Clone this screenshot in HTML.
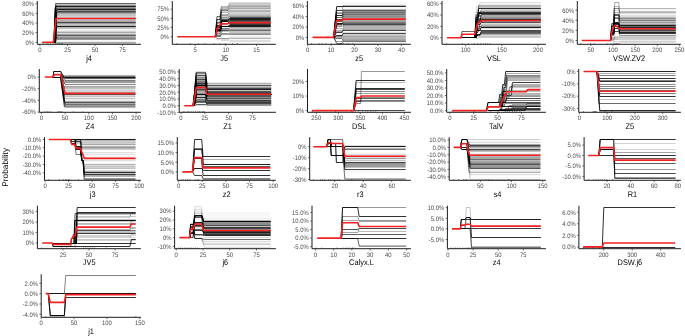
<!DOCTYPE html>
<html><head><meta charset="utf-8"><style>
html,body{margin:0;padding:0;background:#fff;width:685px;height:336px;overflow:hidden}
svg{display:block;will-change:transform;text-rendering:geometricPrecision;font-family:"Liberation Sans",sans-serif}
</style></head><body>
<svg width="685" height="336" viewBox="0 0 685 336">
<rect width="685" height="336" fill="#fff"/>
<text opacity="0.999" transform="translate(7.85 167.3) rotate(-90)" text-anchor="middle" font-size="8.3" fill="#000">Probability</text>
<g fill="none" stroke="#000" stroke-width="0.9" stroke-linejoin="round"><path d="M54.36 42.5 L55.6 3.5 L135.83 3.5" stroke-opacity="0.684"/><path d="M54.94 42.5 L56.11 4.5 L135.83 4.5" stroke-opacity="0.264"/><path d="M54.74 42.5 L56.16 5.5 L135.83 5.5" stroke-opacity="0.504"/><path d="M53.9 42.5 L55.45 6.5 L135.83 6.5" stroke-opacity="0.984"/><path d="M53.86 42.5 L55.34 7.5 L135.83 7.5" stroke-opacity="0.444"/><path d="M53.92 42.5 L55.1 8.5 L135.83 8.5" stroke-opacity="0.624"/><path d="M54.54 42.5 L56.37 9.5 L135.83 9.5" stroke-opacity="0.984"/><path d="M54.01 42.5 L55.31 10.5 L135.83 10.5" stroke-opacity="0.504"/><path d="M54.9 42.5 L56.84 11.5 L135.83 11.5" stroke-opacity="0.804"/><path d="M54.81 42.5 L56.26 12.5 L135.83 12.5" stroke-opacity="0.624"/><path d="M55.52 42.5 L56.66 13.5 L135.83 13.5" stroke-opacity="0.384"/><path d="M55.31 42.5 L56.67 14.5 L135.83 14.5" stroke-opacity="0.264"/><path d="M54.05 42.5 L55.25 15.5 L135.83 15.5" stroke-opacity="0.264"/><path d="M54.34 42.5 L56.16 16.5 L135.83 16.5" stroke-opacity="0.204"/><path d="M54.11 42.5 L55.73 17.5 L135.83 17.5" stroke-opacity="0.264"/><path d="M54.92 42.5 L56.35 18.5 L135.83 18.5" stroke-opacity="0.264"/><path d="M54.76 42.5 L55.92 19.5 L135.83 19.5" stroke-opacity="0.264"/><path d="M53.9 42.5 L55.18 20.5 L135.83 20.5" stroke-opacity="0.324"/><path d="M54.99 42.5 L56.47 21.5 L135.83 21.5" stroke-opacity="0.384"/><path d="M54.35 42.5 L55.97 22.5 L135.83 22.5" stroke-opacity="0.804"/><path d="M54.59 42.5 L55.96 23.5 L135.83 23.5" stroke-opacity="0.444"/><path d="M55.2 42.5 L56.91 24.5 L135.83 24.5" stroke-opacity="0.264"/><path d="M54.22 42.5 L55.83 25.5 L135.83 25.5" stroke-opacity="0.324"/><path d="M54.72 42.5 L56.59 26.5 L135.83 26.5" stroke-opacity="0.984"/><path d="M55.08 42.5 L56.44 27.5 L135.83 27.5" stroke-opacity="0.324"/><path d="M55.52 42.5 L56.73 28.5 L135.83 28.5" stroke-opacity="0.264"/><path d="M54.53 42.5 L56.3 29.5 L135.83 29.5" stroke-opacity="0.048"/><path d="M54.06 42.5 L55.6 30.5 L135.83 30.5" stroke-opacity="0.084"/><path d="M53.86 42.5 L55.55 31.5 L135.83 31.5" stroke-opacity="0.204"/><path d="M55.14 42.5 L56.75 32.5 L135.83 32.5" stroke-opacity="0.384"/><path d="M55.34 42.5 L56.72 33.5 L135.83 33.5" stroke-opacity="0.144"/><path d="M55.02 42.5 L56.65 34.5 L135.83 34.5" stroke-opacity="0.444"/><path d="M54.82 42.5 L56.32 35.5 L135.83 35.5" stroke-opacity="0.684"/><path d="M55.28 42.5 L57.21 36.5 L135.83 36.5" stroke-opacity="0.384"/><path d="M54.63 42.5 L56.32 37.5 L135.83 37.5" stroke-opacity="0.444"/><path d="M53.9 42.5 L55.62 38.5 L135.83 38.5" stroke-opacity="0.564"/><path d="M54.94 42.5 L56.91 39.5 L135.83 39.5" stroke-opacity="0.444"/><path d="M55.24 42.5 L56.6 40.5 L135.83 40.5" stroke-opacity="0.03"/><path d="M54.47 42.5 L56.17 41.5 L135.83 41.5" stroke-opacity="0.084"/><path d="M53.83 42.5 L55.34 42.5 L135.83 42.5" stroke-opacity="0.384"/><path d="M54.09 42.5 L55.3 43.5 L135.83 43.5" stroke-opacity="0.264"/></g><path d="M42.11 42.2 L53.35 42.2 L56 18.44 L135.83 18.44" fill="none" stroke="#f22222" stroke-width="1.6" stroke-linejoin="round"/><path d="M42.99 43V44.3M46.19 43V44.3M48.06 43V44.3M50.6 43V44.3M53.02 43V44.3M55.34 43V44.3M57.65 43V44.3M59.42 43V44.3M61.07 43V44.3M62.28 43V44.3" stroke="#000" stroke-width="0.5" stroke-opacity="0.8"/><path d="M37.3 1V44.3H140.9" fill="none" stroke="#111" stroke-width="0.95"/><path d="M35.5 42.2H37.3M35.5 32.6H37.3M35.5 23H37.3M35.5 13.4H37.3M35.5 3.8H37.3M39.9 44.3V46.1M67.47 44.3V46.1M95.03 44.3V46.1M122.6 44.3V46.1" stroke="#333" stroke-width="0.7"/><g font-size="5.9" fill="#4d4d4d" opacity="0.999"><text transform="translate(34.1 44.52) scale(1 1.1)" text-anchor="end">0%</text><text transform="translate(34.1 34.92) scale(1 1.1)" text-anchor="end">20%</text><text transform="translate(34.1 25.32) scale(1 1.1)" text-anchor="end">40%</text><text transform="translate(34.1 15.72) scale(1 1.1)" text-anchor="end">60%</text><text transform="translate(34.1 6.12) scale(1 1.1)" text-anchor="end">80%</text><text transform="translate(39.9 52.29) scale(1 1.1)" text-anchor="middle">0</text><text transform="translate(67.47 52.29) scale(1 1.1)" text-anchor="middle">25</text><text transform="translate(95.03 52.29) scale(1 1.1)" text-anchor="middle">50</text><text transform="translate(122.6 52.29) scale(1 1.1)" text-anchor="middle">75</text></g><text transform="translate(89.1 60.61) scale(1 1.1)" text-anchor="middle" font-size="7.4" fill="#000" opacity="0.999">j4</text><g fill="none" stroke="#000" stroke-width="0.9" stroke-linejoin="round"><path d="M215.31 36.5 L216.96 17.5 L220.02 17.5 L221.43 6.5 L227.65 6.5 L229.48 2.5 L270.78 2.5" stroke-opacity="0.144"/><path d="M215.31 36.5 L216.96 16.5 L220.39 16.5 L222.03 8.5 L227.84 8.5 L229.68 3.5 L270.78 3.5" stroke-opacity="0.264"/><path d="M215.31 36.5 L216.96 16.5 L220.23 16.5 L221.39 6.5 L227.74 6.5 L229.58 4.5 L270.78 4.5" stroke-opacity="0.204"/><path d="M215.31 36.5 L216.96 16.5 L219.94 16.5 L221.23 7.5 L227.66 7.5 L229.5 5.5 L270.78 5.5" stroke-opacity="0.324"/><path d="M215.31 36.5 L216.96 19.5 L220.04 19.5 L220.95 9.5 L227.93 9.5 L229.77 6.5 L270.78 6.5" stroke-opacity="0.384"/><path d="M215.31 36.5 L216.96 19.5 L220.89 19.5 L221.79 10.5 L227.91 10.5 L229.75 7.5 L270.78 7.5" stroke-opacity="0.264"/><path d="M215.31 36.5 L216.96 19.5 L219.79 19.5 L222.05 10.5 L227.98 10.5 L229.82 8.5 L270.78 8.5" stroke-opacity="0.384"/><path d="M215.31 36.5 L216.96 19.5 L220.2 19.5 L221.44 11.5 L228.06 11.5 L229.89 9.5 L270.78 9.5" stroke-opacity="0.144"/><path d="M215.31 36.5 L216.96 22.5 L219.8 22.5 L221.2 12.5 L227.6 12.5 L229.44 10.5 L270.78 10.5" stroke-opacity="0.324"/><path d="M215.31 36.5 L216.96 22.5 L219.72 22.5 L221.13 14.5 L227.6 14.5 L229.44 11.5 L270.78 11.5" stroke-opacity="0.324"/><path d="M215.31 36.5 L216.96 23.5 L220.79 23.5 L221.7 15.5 L227.58 15.5 L229.42 12.5 L270.78 12.5" stroke-opacity="0.204"/><path d="M215.31 36.5 L216.96 23.5 L220.17 23.5 L221.1 16.5 L227.78 16.5 L229.62 13.5 L270.78 13.5" stroke-opacity="0.204"/><path d="M215.31 36.5 L216.96 22.5 L220.31 22.5 L221.05 15.5 L227.85 15.5 L229.69 14.5 L270.78 14.5" stroke-opacity="0.264"/><path d="M215.31 36.5 L216.96 25.5 L220.74 25.5 L221.14 18.5 L227.73 18.5 L229.57 15.5 L270.78 15.5" stroke-opacity="0.324"/><path d="M215.31 36.5 L216.96 26.5 L219.9 26.5 L221.61 17.5 L227.89 17.5 L229.73 16.5 L270.78 16.5" stroke-opacity="0.444"/><path d="M215.31 36.5 L216.96 26.5 L220.78 26.5 L221.8 19.5 L228.17 19.5 L230.01 17.5 L270.78 17.5" stroke-opacity="0.744"/><path d="M215.31 36.5 L216.96 26.5 L220.67 26.5 L221.6 20.5 L227.67 20.5 L229.51 18.5 L270.78 18.5" stroke-opacity="1.0"/><path d="M215.31 36.5 L216.96 25.5 L220.71 25.5 L222.15 21.5 L227.7 21.5 L229.54 19.5 L270.78 19.5" stroke-opacity="0.984"/><path d="M215.31 36.5 L216.96 25.5 L220.63 25.5 L221.22 21.5 L228.07 21.5 L229.91 20.5 L270.78 20.5" stroke-opacity="0.864"/><path d="M215.31 36.5 L216.96 27.5 L219.75 27.5 L221.29 23.5 L227.58 23.5 L229.42 21.5 L270.78 21.5" stroke-opacity="0.744"/><path d="M215.31 36.5 L216.96 28.5 L220.27 28.5 L222.09 23.5 L228.15 23.5 L229.99 22.5 L270.78 22.5" stroke-opacity="0.504"/><path d="M215.31 36.5 L216.96 27.5 L219.99 27.5 L221.22 23.5 L227.79 23.5 L229.63 23.5 L270.78 23.5" stroke-opacity="0.804"/><path d="M215.31 36.5 L216.96 30.5 L220.82 30.5 L221.98 26.5 L227.95 26.5 L229.79 24.5 L270.78 24.5" stroke-opacity="0.864"/><path d="M215.31 36.5 L216.96 30.5 L219.82 30.5 L221.76 26.5 L228.06 26.5 L229.9 25.5 L270.78 25.5" stroke-opacity="1.0"/><path d="M215.31 36.5 L216.96 29.5 L220.31 29.5 L221.16 26.5 L228.03 26.5 L229.87 26.5 L270.78 26.5" stroke-opacity="0.984"/><path d="M215.31 36.5 L216.96 30.5 L220.91 30.5 L221.43 28.5 L228.06 28.5 L229.9 27.5 L270.78 27.5" stroke-opacity="0.384"/><path d="M215.31 36.5 L216.96 32.5 L219.93 32.5 L221.1 28.5 L228.01 28.5 L229.85 28.5 L270.78 28.5" stroke-opacity="0.264"/><path d="M215.31 36.5 L216.96 33.5 L219.9 33.5 L221.96 29.5 L228.06 29.5 L229.9 29.5 L270.78 29.5" stroke-opacity="0.444"/><path d="M215.31 36.5 L216.96 31.5 L220.39 31.5 L221.11 30.5 L227.78 30.5 L229.62 30.5 L270.78 30.5" stroke-opacity="0.624"/><path d="M215.31 36.5 L216.96 35.5 L220.37 35.5 L222.09 30.5 L227.96 30.5 L229.8 31.5 L270.78 31.5" stroke-opacity="0.264"/><path d="M215.31 36.5 L216.96 34.5 L219.98 34.5 L221.25 31.5 L228.07 31.5 L229.91 32.5 L270.78 32.5" stroke-opacity="0.264"/><path d="M215.31 36.5 L216.96 35.5 L220.04 35.5 L221.46 34.5 L227.93 34.5 L229.76 33.5 L270.78 33.5" stroke-opacity="0.384"/><path d="M215.31 36.5 L216.96 36.5 L220.28 36.5 L221.66 33.5 L227.78 33.5 L229.62 34.5 L270.78 34.5" stroke-opacity="0.504"/><path d="M215.31 36.5 L216.96 34.5 L220.34 34.5 L221.6 35.5 L228.13 35.5 L229.97 35.5 L270.78 35.5" stroke-opacity="0.03"/><path d="M215.31 36.5 L216.96 36.5 L219.94 36.5 L220.95 37.5 L227.84 37.5 L229.68 36.5 L270.78 36.5" stroke-opacity="0.048"/><path d="M215.31 36.5 L216.96 36.5 L220.61 36.5 L221.63 38.5 L227.86 38.5 L229.7 37.5 L270.78 37.5" stroke-opacity="0.144"/><path d="M215.31 36.5 L216.96 38.5 L220.68 38.5 L221.08 38.5 L227.91 38.5 L229.75 38.5 L270.78 38.5" stroke-opacity="0.324"/><path d="M215.31 36.5 L216.96 38.5 L220.67 38.5 L221.57 39.5 L227.74 39.5 L229.58 39.5 L270.78 39.5" stroke-opacity="0.03"/><path d="M215.31 36.5 L216.96 38.5 L220.26 38.5 L221.7 39.5 L228.13 39.5 L229.96 40.5 L270.78 40.5" stroke-opacity="0.144"/><path d="M215.31 36.5 L216.96 39.5 L220.27 39.5 L221.6 40.5 L227.99 40.5 L229.83 41.5 L270.78 41.5" stroke-opacity="0.144"/><path d="M215.31 36.5 L216.96 40.5 L220.79 40.5 L222.1 40.5 L228 40.5 L229.83 42.5 L270.78 42.5" stroke-opacity="0.03"/></g><path d="M177.42 36.8 L215.31 36.8 L217.27 27.95 L220.82 23.9 L227.57 23.9 L229.71 22.61 L270.78 22.61" fill="none" stroke="#f22222" stroke-width="1.6" stroke-linejoin="round"/><path d="M176.81 43V44.3M190.3 43V44.3M198.26 43V44.3M205.01 43V44.3M214.2 43V44.3M219.72 43V44.3M225.24 43V44.3M232.59 43V44.3M237.5 43V44.3" stroke="#000" stroke-width="0.5" stroke-opacity="0.8"/><path d="M172.3 1V44.3H275.9" fill="none" stroke="#111" stroke-width="0.95"/><path d="M170.5 36.8H172.3M170.5 27.58H172.3M170.5 18.37H172.3M170.5 9.15H172.3M195.2 44.3V46.1M225.85 44.3V46.1M256.5 44.3V46.1" stroke="#333" stroke-width="0.7"/><g font-size="5.9" fill="#4d4d4d" opacity="0.999"><text transform="translate(169.1 39.12) scale(1 1.1)" text-anchor="end">0%</text><text transform="translate(169.1 29.91) scale(1 1.1)" text-anchor="end">25%</text><text transform="translate(169.1 20.69) scale(1 1.1)" text-anchor="end">50%</text><text transform="translate(169.1 11.47) scale(1 1.1)" text-anchor="end">75%</text><text transform="translate(195.2 52.29) scale(1 1.1)" text-anchor="middle">5</text><text transform="translate(225.85 52.29) scale(1 1.1)" text-anchor="middle">10</text><text transform="translate(256.5 52.29) scale(1 1.1)" text-anchor="middle">15</text></g><text transform="translate(224.1 60.61) scale(1 1.1)" text-anchor="middle" font-size="7.4" fill="#000" opacity="0.999">J5</text><g fill="none" stroke="#000" stroke-width="0.9" stroke-linejoin="round"><path d="M333.79 37.5 L336.87 6.5 L342.07 6.5 L343.01 2.5 L405.86 2.5" stroke-opacity="0.03"/><path d="M333.49 37.5 L336.29 6.5 L342.07 6.5 L343.01 3.5 L405.86 3.5" stroke-opacity="0.03"/><path d="M333.45 37.5 L336.38 7.5 L342.07 7.5 L343.01 4.5 L405.86 4.5" stroke-opacity="0.048"/><path d="M333.87 37.5 L336.76 10.5 L342.07 10.5 L343.01 5.5 L405.86 5.5" stroke-opacity="0.324"/><path d="M333.5 37.5 L336.71 6.5 L342.07 6.5 L343.01 6.5 L405.86 6.5" stroke-opacity="0.924"/><path d="M333.5 37.5 L336.83 9.5 L342.07 9.5 L343.01 7.5 L405.86 7.5" stroke-opacity="0.03"/><path d="M333.55 37.5 L336.88 8.5 L342.07 8.5 L343.01 8.5 L405.86 8.5" stroke-opacity="0.03"/><path d="M333.74 37.5 L336.91 12.5 L342.07 12.5 L343.01 9.5 L405.86 9.5" stroke-opacity="0.324"/><path d="M333.51 37.5 L336.51 10.5 L342.07 10.5 L343.01 10.5 L405.86 10.5" stroke-opacity="0.684"/><path d="M333.63 37.5 L336.35 13.5 L342.07 13.5 L343.01 11.5 L405.86 11.5" stroke-opacity="0.504"/><path d="M333.9 37.5 L336.22 15.5 L342.07 15.5 L343.01 12.5 L405.86 12.5" stroke-opacity="0.624"/><path d="M333.7 37.5 L336.22 15.5 L342.07 15.5 L343.01 13.5 L405.86 13.5" stroke-opacity="0.504"/><path d="M333.83 37.5 L336.57 17.5 L342.07 17.5 L343.01 14.5 L405.86 14.5" stroke-opacity="0.624"/><path d="M334.09 37.5 L336.76 19.5 L342.07 19.5 L343.01 15.5 L405.86 15.5" stroke-opacity="0.444"/><path d="M333.47 37.5 L336.4 15.5 L342.07 15.5 L343.01 16.5 L405.86 16.5" stroke-opacity="0.504"/><path d="M333.94 37.5 L336.4 21.5 L342.07 21.5 L343.01 17.5 L405.86 17.5" stroke-opacity="0.444"/><path d="M333.69 37.5 L336.85 21.5 L342.07 21.5 L343.01 18.5 L405.86 18.5" stroke-opacity="0.384"/><path d="M333.58 37.5 L336.31 19.5 L342.07 19.5 L343.01 19.5 L405.86 19.5" stroke-opacity="0.384"/><path d="M333.8 37.5 L336.7 19.5 L342.07 19.5 L343.01 20.5 L405.86 20.5" stroke-opacity="0.384"/><path d="M333.44 37.5 L336.69 24.5 L342.07 24.5 L343.01 21.5 L405.86 21.5" stroke-opacity="0.444"/><path d="M333.45 37.5 L336.87 24.5 L342.07 24.5 L343.01 22.5 L405.86 22.5" stroke-opacity="0.564"/><path d="M333.96 37.5 L336.27 23.5 L342.07 23.5 L343.01 23.5 L405.86 23.5" stroke-opacity="0.684"/><path d="M333.44 37.5 L336.82 23.5 L342.07 23.5 L343.01 24.5 L405.86 24.5" stroke-opacity="0.804"/><path d="M333.63 37.5 L336.6 26.5 L342.07 26.5 L343.01 25.5 L405.86 25.5" stroke-opacity="0.444"/><path d="M333.58 37.5 L336.3 25.5 L342.07 25.5 L343.01 26.5 L405.86 26.5" stroke-opacity="0.324"/><path d="M333.56 37.5 L336.29 28.5 L342.07 28.5 L343.01 27.5 L405.86 27.5" stroke-opacity="0.324"/><path d="M333.43 37.5 L336.35 30.5 L342.07 30.5 L343.01 28.5 L405.86 28.5" stroke-opacity="0.324"/><path d="M333.61 37.5 L336.74 31.5 L342.07 31.5 L343.01 29.5 L405.86 29.5" stroke-opacity="0.384"/><path d="M333.75 37.5 L336.33 32.5 L342.07 32.5 L343.01 30.5 L405.86 30.5" stroke-opacity="0.804"/><path d="M333.41 37.5 L336.39 32.5 L342.07 32.5 L343.01 31.5 L405.86 31.5" stroke-opacity="0.03"/><path d="M333.91 37.5 L336.6 35.5 L342.07 35.5 L343.01 32.5 L405.86 32.5" stroke-opacity="0.144"/><path d="M333.73 37.5 L336.87 35.5 L342.07 35.5 L343.01 33.5 L405.86 33.5" stroke-opacity="0.804"/><path d="M333.97 37.5 L336.51 36.5 L342.07 36.5 L343.01 34.5 L405.86 34.5" stroke-opacity="0.204"/><path d="M333.98 37.5 L336.49 35.5 L342.07 35.5 L343.01 35.5 L405.86 35.5" stroke-opacity="0.264"/><path d="M333.88 37.5 L336.9 36.5 L342.07 36.5 L343.01 36.5 L405.86 36.5" stroke-opacity="0.384"/><path d="M333.98 37.5 L336.71 38.5 L342.07 38.5 L343.01 37.5 L405.86 37.5" stroke-opacity="0.324"/><path d="M333.68 37.5 L336.45 37.5 L342.07 37.5 L343.01 38.5 L405.86 38.5" stroke-opacity="0.324"/><path d="M333.49 37.5 L336.26 41.5 L342.07 41.5 L343.01 39.5 L405.86 39.5" stroke-opacity="0.384"/><path d="M333.57 37.5 L336.32 38.5 L342.07 38.5 L343.01 40.5 L405.86 40.5" stroke-opacity="0.444"/><path d="M333.99 37.5 L336.82 43.5 L342.07 43.5 L343.01 41.5 L405.86 41.5" stroke-opacity="0.624"/><path d="M333.59 37.5 L336.38 41.5 L342.07 41.5 L343.01 42.5 L405.86 42.5" stroke-opacity="0.03"/><path d="M333.72 37.5 L336.32 44.5 L342.07 44.5 L343.01 43.5 L405.86 43.5" stroke-opacity="0.144"/></g><path d="M312.52 37.4 L333.39 37.4 L336.68 20.5 L342.07 20.5 L343.01 19.14 L405.86 19.14" fill="none" stroke="#f22222" stroke-width="1.6" stroke-linejoin="round"/><path d="M311.59 43V44.3M319.09 43V44.3M322.14 43V44.3M325.66 43V44.3M331.28 43V44.3M340.9 43V44.3M343.48 43V44.3M346.29 43V44.3M348.87 43V44.3M352.86 43V44.3" stroke="#000" stroke-width="0.5" stroke-opacity="0.8"/><path d="M307.4 1V44.3H410.9" fill="none" stroke="#111" stroke-width="0.95"/><path d="M305.6 37.4H307.4M305.6 26.97H307.4M305.6 16.53H307.4M305.6 6.1H307.4M307.6 44.3V46.1M331.05 44.3V46.1M354.5 44.3V46.1M377.95 44.3V46.1M401.4 44.3V46.1" stroke="#333" stroke-width="0.7"/><g font-size="5.9" fill="#4d4d4d" opacity="0.999"><text transform="translate(304.2 39.72) scale(1 1.1)" text-anchor="end">0%</text><text transform="translate(304.2 29.29) scale(1 1.1)" text-anchor="end">20%</text><text transform="translate(304.2 18.86) scale(1 1.1)" text-anchor="end">40%</text><text transform="translate(304.2 8.42) scale(1 1.1)" text-anchor="end">60%</text><text transform="translate(307.6 52.29) scale(1 1.1)" text-anchor="middle">0</text><text transform="translate(331.05 52.29) scale(1 1.1)" text-anchor="middle">10</text><text transform="translate(354.5 52.29) scale(1 1.1)" text-anchor="middle">20</text><text transform="translate(377.95 52.29) scale(1 1.1)" text-anchor="middle">30</text><text transform="translate(401.4 52.29) scale(1 1.1)" text-anchor="middle">40</text></g><text transform="translate(359.15 60.61) scale(1 1.1)" text-anchor="middle" font-size="7.4" fill="#000" opacity="0.999">z5</text><g fill="none" stroke="#000" stroke-width="0.9" stroke-linejoin="round"><path d="M461.07 37.5 L462.01 34.5 L475.46 34.5 L476.55 6.5 L479 6.5 L480.09 2.5 L540.89 2.5" stroke-opacity="0.144"/><path d="M461.07 37.5 L462.01 37.5 L476.18 37.5 L477.27 17.5 L479 17.5 L480.09 3.5 L540.89 3.5" stroke-opacity="0.03"/><path d="M461.07 37.5 L462.01 37.5 L475.46 37.5 L476.55 16.5 L477.56 16.5 L478.64 4.5 L540.89 4.5" stroke-opacity="0.084"/><path d="M461.07 37.5 L462.01 31.5 L475.46 31.5 L476.55 15.5 L477.56 15.5 L478.64 5.5 L540.89 5.5" stroke-opacity="0.324"/><path d="M461.07 37.5 L462.01 37.5 L474.88 37.5 L475.97 15.5 L477.56 15.5 L478.64 6.5 L540.89 6.5" stroke-opacity="0.324"/><path d="M461.07 37.5 L462.01 31.5 L475.46 31.5 L476.55 20.5 L477.56 20.5 L478.64 7.5 L540.89 7.5" stroke-opacity="0.264"/><path d="M461.07 37.5 L462.01 37.5 L475.46 37.5 L476.55 19.5 L477.56 19.5 L478.64 8.5 L540.89 8.5" stroke-opacity="0.924"/><path d="M461.07 37.5 L462.01 37.5 L474.88 37.5 L475.97 12.5 L479.94 12.5 L481.03 9.5 L540.89 9.5" stroke-opacity="0.204"/><path d="M461.07 37.5 L462.01 37.5 L474.88 37.5 L475.97 14.5 L479.94 14.5 L481.03 10.5 L540.89 10.5" stroke-opacity="0.264"/><path d="M461.07 37.5 L462.01 37.5 L476.18 37.5 L477.27 16.5 L479 16.5 L480.09 11.5 L540.89 11.5" stroke-opacity="0.444"/><path d="M461.07 37.5 L462.01 37.5 L475.46 37.5 L476.55 22.5 L477.56 22.5 L478.64 12.5 L540.89 12.5" stroke-opacity="0.864"/><path d="M461.07 37.5 L462.01 37.5 L474.88 37.5 L475.97 17.5 L477.56 17.5 L478.64 13.5 L540.89 13.5" stroke-opacity="0.984"/><path d="M461.07 37.5 L462.01 37.5 L476.18 37.5 L477.27 22.5 L479.94 22.5 L481.03 14.5 L540.89 14.5" stroke-opacity="0.744"/><path d="M461.07 37.5 L462.01 37.5 L476.18 37.5 L477.27 18.5 L477.56 18.5 L478.64 15.5 L540.89 15.5" stroke-opacity="0.384"/><path d="M461.07 37.5 L462.01 37.5 L476.18 37.5 L477.27 20.5 L477.56 20.5 L478.64 16.5 L540.89 16.5" stroke-opacity="0.384"/><path d="M461.07 37.5 L462.01 37.5 L476.18 37.5 L477.27 19.5 L479.94 19.5 L481.03 17.5 L540.89 17.5" stroke-opacity="0.444"/><path d="M461.07 37.5 L462.01 37.5 L474.88 37.5 L475.97 27.5 L477.56 27.5 L478.64 18.5 L540.89 18.5" stroke-opacity="0.564"/><path d="M461.07 37.5 L462.01 37.5 L474.88 37.5 L475.97 22.5 L479 22.5 L480.09 19.5 L540.89 19.5" stroke-opacity="0.924"/><path d="M461.07 37.5 L462.01 37.5 L476.18 37.5 L477.27 24.5 L477.56 24.5 L478.64 20.5 L540.89 20.5" stroke-opacity="0.384"/><path d="M461.07 37.5 L462.01 37.5 L475.46 37.5 L476.55 29.5 L479 29.5 L480.09 21.5 L540.89 21.5" stroke-opacity="0.504"/><path d="M461.07 37.5 L462.01 37.5 L476.18 37.5 L477.27 24.5 L479.94 24.5 L481.03 22.5 L540.89 22.5" stroke-opacity="0.744"/><path d="M461.07 37.5 L462.01 31.5 L476.18 31.5 L477.27 26.5 L477.56 26.5 L478.64 23.5 L540.89 23.5" stroke-opacity="0.144"/><path d="M461.07 37.5 L462.01 37.5 L474.88 37.5 L475.97 29.5 L479 29.5 L480.09 24.5 L540.89 24.5" stroke-opacity="0.264"/><path d="M461.07 37.5 L462.01 37.5 L474.88 37.5 L475.97 28.5 L479.94 28.5 L481.03 25.5 L540.89 25.5" stroke-opacity="0.324"/><path d="M461.07 37.5 L462.01 37.5 L475.46 37.5 L476.55 29.5 L477.56 29.5 L478.64 26.5 L540.89 26.5" stroke-opacity="0.504"/><path d="M461.07 37.5 L462.01 37.5 L474.88 37.5 L475.97 30.5 L479.94 30.5 L481.03 27.5 L540.89 27.5" stroke-opacity="0.984"/><path d="M461.07 37.5 L462.01 34.5 L476.18 34.5 L477.27 31.5 L477.56 31.5 L478.64 28.5 L540.89 28.5" stroke-opacity="0.144"/><path d="M461.07 37.5 L462.01 37.5 L476.18 37.5 L477.27 31.5 L479 31.5 L480.09 29.5 L540.89 29.5" stroke-opacity="0.03"/><path d="M461.07 37.5 L462.01 34.5 L475.46 34.5 L476.55 32.5 L477.56 32.5 L478.64 30.5 L540.89 30.5" stroke-opacity="0.804"/><path d="M461.07 37.5 L462.01 37.5 L474.88 37.5 L475.97 34.5 L479.94 34.5 L481.03 31.5 L540.89 31.5" stroke-opacity="0.744"/><path d="M461.07 37.5 L462.01 37.5 L476.18 37.5 L477.27 34.5 L479.94 34.5 L481.03 32.5 L540.89 32.5" stroke-opacity="0.744"/><path d="M461.07 37.5 L462.01 37.5 L474.88 37.5 L475.97 35.5 L479.94 35.5 L481.03 33.5 L540.89 33.5" stroke-opacity="0.624"/><path d="M461.07 37.5 L462.01 37.5 L475.46 37.5 L476.55 35.5 L477.56 35.5 L478.64 34.5 L540.89 34.5" stroke-opacity="0.384"/><path d="M461.07 37.5 L462.01 31.5 L476.18 31.5 L477.27 35.5 L479 35.5 L480.09 35.5 L540.89 35.5" stroke-opacity="0.144"/><path d="M461.07 37.5 L462.01 34.5 L474.88 34.5 L475.97 36.5 L477.56 36.5 L478.64 36.5 L540.89 36.5" stroke-opacity="0.264"/><path d="M461.07 37.5 L462.01 34.5 L476.18 34.5 L477.27 37.5 L479 37.5 L480.09 37.5 L540.89 37.5" stroke-opacity="0.03"/><path d="M474.88 37.5 L475.82 38.5 L477.99 38.5 L479.44 37.5 L540.89 37.5" stroke-opacity="0.2"/></g><path d="M446.9 37.7 L461.07 37.7 L462.01 34.19 L474.88 34.19 L477.56 23.31 L482.4 20.53 L540.89 20.53" fill="none" stroke="#f22222" stroke-width="1.6" stroke-linejoin="round"/><path d="M446.61 43V44.3M462.3 43V44.3M468.52 43V44.3M474.23 43V44.3M477.7 43V44.3M480.67 43V44.3M483.27 43V44.3M485.51 43V44.3M487.68 43V44.3M490.28 43V44.3" stroke="#000" stroke-width="0.5" stroke-opacity="0.8"/><path d="M442 1V44.3H545.9" fill="none" stroke="#111" stroke-width="0.95"/><path d="M440.2 37.7H442M440.2 26.37H442M440.2 15.03H442M440.2 3.7H442M465.7 44.3V46.1M501.85 44.3V46.1M538 44.3V46.1" stroke="#333" stroke-width="0.7"/><g font-size="5.9" fill="#4d4d4d" opacity="0.999"><text transform="translate(438.8 40.02) scale(1 1.1)" text-anchor="end">0%</text><text transform="translate(438.8 28.69) scale(1 1.1)" text-anchor="end">20%</text><text transform="translate(438.8 17.36) scale(1 1.1)" text-anchor="end">40%</text><text transform="translate(438.8 6.02) scale(1 1.1)" text-anchor="end">60%</text><text transform="translate(465.7 52.29) scale(1 1.1)" text-anchor="middle">100</text><text transform="translate(501.85 52.29) scale(1 1.1)" text-anchor="middle">150</text><text transform="translate(538 52.29) scale(1 1.1)" text-anchor="middle">200</text></g><text transform="translate(493.95 60.61) scale(1 1.1)" text-anchor="middle" font-size="7.4" fill="#000" opacity="0.999">VSL</text><g fill="none" stroke="#000" stroke-width="0.9" stroke-linejoin="round"><path d="M610.42 40.5 L611.89 23.5 L614.28 23.5 L614.72 2.5 L618.63 2.5 L619.42 8.5 L675.86 8.5" stroke-opacity="0.324"/><path d="M610.42 40.5 L611.89 23.5 L613.84 23.5 L614.28 2.5 L618.71 2.5 L619.44 9.5 L675.86 9.5" stroke-opacity="0.048"/><path d="M610.42 40.5 L611.89 23.5 L613.84 23.5 L614.28 2.5 L618.64 2.5 L619.44 10.5 L675.86 10.5" stroke-opacity="0.03"/><path d="M610.42 40.5 L611.89 23.5 L613.84 23.5 L614.28 6.5 L618.44 6.5 L619.71 11.5 L675.86 11.5" stroke-opacity="0.264"/><path d="M610.42 40.5 L611.89 23.5 L613.53 23.5 L613.97 8.5 L618.92 8.5 L619.77 12.5 L675.86 12.5" stroke-opacity="0.324"/><path d="M610.42 40.5 L611.89 24.5 L613.84 24.5 L614.28 8.5 L618.7 8.5 L619.76 13.5 L675.86 13.5" stroke-opacity="0.144"/><path d="M610.42 40.5 L611.89 26.5 L613.84 26.5 L614.28 6.5 L619.01 6.5 L619.5 14.5 L675.86 14.5" stroke-opacity="0.048"/><path d="M610.42 40.5 L611.89 26.5 L614.28 26.5 L614.72 8.5 L619.06 8.5 L619.48 15.5 L675.86 15.5" stroke-opacity="0.144"/><path d="M610.42 40.5 L611.89 26.5 L613.53 26.5 L613.97 10.5 L618.96 10.5 L619.72 16.5 L675.86 16.5" stroke-opacity="0.144"/><path d="M610.42 40.5 L611.89 26.5 L614.28 26.5 L614.72 14.5 L618.71 14.5 L619.76 17.5 L675.86 17.5" stroke-opacity="0.324"/><path d="M610.42 40.5 L611.89 26.5 L613.53 26.5 L613.97 14.5 L618.48 14.5 L619.7 18.5 L675.86 18.5" stroke-opacity="0.504"/><path d="M610.42 40.5 L611.89 27.5 L614.28 27.5 L614.72 12.5 L619.02 12.5 L619.59 19.5 L675.86 19.5" stroke-opacity="0.324"/><path d="M610.42 40.5 L611.89 25.5 L613.53 25.5 L613.97 15.5 L618.76 15.5 L619.53 20.5 L675.86 20.5" stroke-opacity="0.564"/><path d="M610.42 40.5 L611.89 29.5 L614.28 29.5 L614.72 15.5 L618.62 15.5 L619.66 21.5 L675.86 21.5" stroke-opacity="0.264"/><path d="M610.42 40.5 L611.89 29.5 L613.84 29.5 L614.28 17.5 L618.52 17.5 L619.66 22.5 L675.86 22.5" stroke-opacity="0.444"/><path d="M610.42 40.5 L611.89 31.5 L613.84 31.5 L614.28 18.5 L618.81 18.5 L619.57 23.5 L675.86 23.5" stroke-opacity="0.264"/><path d="M610.42 40.5 L611.89 30.5 L613.84 30.5 L614.28 18.5 L618.54 18.5 L619.46 24.5 L675.86 24.5" stroke-opacity="0.444"/><path d="M610.42 40.5 L611.89 32.5 L613.53 32.5 L613.97 22.5 L618.66 22.5 L619.54 25.5 L675.86 25.5" stroke-opacity="0.984"/><path d="M610.42 40.5 L611.89 29.5 L613.53 29.5 L613.97 24.5 L618.94 24.5 L619.56 26.5 L675.86 26.5" stroke-opacity="0.684"/><path d="M610.42 40.5 L611.89 32.5 L613.84 32.5 L614.28 23.5 L618.62 23.5 L619.71 27.5 L675.86 27.5" stroke-opacity="0.924"/><path d="M610.42 40.5 L611.89 32.5 L613.84 32.5 L614.28 24.5 L618.53 24.5 L619.6 28.5 L675.86 28.5" stroke-opacity="0.504"/><path d="M610.42 40.5 L611.89 32.5 L613.53 32.5 L613.97 23.5 L618.5 23.5 L619.77 29.5 L675.86 29.5" stroke-opacity="0.624"/><path d="M610.42 40.5 L611.89 34.5 L613.84 34.5 L614.28 26.5 L619.08 26.5 L619.75 30.5 L675.86 30.5" stroke-opacity="0.804"/><path d="M610.42 40.5 L611.89 32.5 L613.53 32.5 L613.97 31.5 L618.73 31.5 L619.71 31.5 L675.86 31.5" stroke-opacity="0.504"/><path d="M610.42 40.5 L611.89 33.5 L613.84 33.5 L614.28 26.5 L618.44 26.5 L619.55 32.5 L675.86 32.5" stroke-opacity="0.984"/><path d="M610.42 40.5 L611.89 33.5 L613.84 33.5 L614.28 28.5 L619.09 28.5 L619.48 33.5 L675.86 33.5" stroke-opacity="0.864"/><path d="M610.42 40.5 L611.89 37.5 L614.28 37.5 L614.72 33.5 L619.09 33.5 L619.42 34.5 L675.86 34.5" stroke-opacity="0.084"/><path d="M610.42 40.5 L611.89 35.5 L613.84 35.5 L614.28 31.5 L618.5 31.5 L619.72 35.5 L675.86 35.5" stroke-opacity="0.444"/><path d="M610.42 40.5 L611.89 39.5 L614.28 39.5 L614.72 36.5 L619.05 36.5 L619.66 36.5 L675.86 36.5" stroke-opacity="0.204"/><path d="M610.42 40.5 L611.89 38.5 L613.84 38.5 L614.28 37.5 L618.79 37.5 L619.57 37.5 L675.86 37.5" stroke-opacity="0.264"/><path d="M610.42 40.5 L611.89 37.5 L613.84 37.5 L614.28 38.5 L618.79 38.5 L619.63 38.5 L675.86 38.5" stroke-opacity="0.204"/><path d="M610.42 40.5 L611.89 39.5 L614.28 39.5 L614.72 39.5 L618.44 39.5 L619.61 39.5 L675.86 39.5" stroke-opacity="0.204"/><path d="M610.42 40.5 L611.89 37.5 L613.84 37.5 L614.28 39.5 L618.87 39.5 L619.77 40.5 L675.86 40.5" stroke-opacity="0.084"/><path d="M610.42 40.5 L611.89 40.5 L613.53 40.5 L613.97 41.5 L618.46 41.5 L619.56 41.5 L675.86 41.5" stroke-opacity="0.204"/><path d="M610.42 40.5 L611.89 40.5 L613.53 40.5 L613.97 43.5 L618.77 43.5 L619.67 42.5 L675.86 42.5" stroke-opacity="0.144"/></g><path d="M581.81 40.5 L610.42 40.5 L611.89 32.22 L613.61 26.87 L615.16 25.35 L616.94 26.36 L619.15 28.28 L620.04 28.73 L675.86 28.73" fill="none" stroke="#f22222" stroke-width="1.6" stroke-linejoin="round"/><path d="M580.66 43V44.3M590.49 43V44.3M594.08 43V44.3M607.06 43V44.3M610.65 43V44.3M613.3 43V44.3M615.16 43V44.3M616.49 43V44.3M617.82 43V44.3M619.15 43V44.3" stroke="#000" stroke-width="0.5" stroke-opacity="0.8"/><path d="M577.3 1V44.3H680.9" fill="none" stroke="#111" stroke-width="0.95"/><path d="M575.5 40.5H577.3M575.5 30.4H577.3M575.5 20.3H577.3M575.5 10.2H577.3M590.8 44.3V46.1M612.95 44.3V46.1M635.1 44.3V46.1M657.25 44.3V46.1M679.4 44.3V46.1" stroke="#333" stroke-width="0.7"/><g font-size="5.9" fill="#4d4d4d" opacity="0.999"><text transform="translate(574.1 42.82) scale(1 1.1)" text-anchor="end">0%</text><text transform="translate(574.1 32.72) scale(1 1.1)" text-anchor="end">20%</text><text transform="translate(574.1 22.62) scale(1 1.1)" text-anchor="end">40%</text><text transform="translate(574.1 12.52) scale(1 1.1)" text-anchor="end">60%</text><text transform="translate(590.8 52.29) scale(1 1.1)" text-anchor="middle">50</text><text transform="translate(612.95 52.29) scale(1 1.1)" text-anchor="middle">100</text><text transform="translate(635.1 52.29) scale(1 1.1)" text-anchor="middle">150</text><text transform="translate(657.25 52.29) scale(1 1.1)" text-anchor="middle">200</text><text transform="translate(679.4 52.29) scale(1 1.1)" text-anchor="middle">250</text></g><text transform="translate(629.1 60.61) scale(1 1.1)" text-anchor="middle" font-size="7.4" fill="#000" opacity="0.999">VSW.ZV2</text><g fill="none" stroke="#000" stroke-width="0.9" stroke-linejoin="round"><path d="M53.06 77.5 L53.83 74.5 L60.81 74.5 L64.97 74.5 L135.48 74.5" stroke-opacity="0.03"/><path d="M52.93 77.5 L53.73 77.5 L60.58 77.5 L64.25 75.5 L135.48 75.5" stroke-opacity="0.324"/><path d="M53.25 77.5 L53.8 74.5 L60.91 74.5 L64.7 76.5 L135.48 76.5" stroke-opacity="0.624"/><path d="M53.12 77.5 L53.81 77.5 L61.03 77.5 L64.1 77.5 L135.48 77.5" stroke-opacity="0.624"/><path d="M53.35 77.5 L53.82 74.5 L60.5 74.5 L64.73 78.5 L135.48 78.5" stroke-opacity="0.684"/><path d="M52.97 77.5 L54.16 77.5 L60.69 77.5 L63.92 79.5 L135.48 79.5" stroke-opacity="0.084"/><path d="M52.92 77.5 L53.91 74.5 L60.81 74.5 L65 80.5 L135.48 80.5" stroke-opacity="0.564"/><path d="M52.87 77.5 L53.9 77.5 L60.49 77.5 L65.04 81.5 L135.48 81.5" stroke-opacity="0.444"/><path d="M52.86 77.5 L53.74 74.5 L60.38 74.5 L64.21 82.5 L135.48 82.5" stroke-opacity="0.444"/><path d="M53.4 77.5 L54.13 77.5 L60.86 77.5 L65.07 83.5 L135.48 83.5" stroke-opacity="0.084"/><path d="M53.43 77.5 L53.87 74.5 L60.47 74.5 L64.98 84.5 L135.48 84.5" stroke-opacity="0.504"/><path d="M53.29 77.5 L53.73 77.5 L60.81 77.5 L64.19 85.5 L135.48 85.5" stroke-opacity="0.03"/><path d="M53.03 77.5 L53.87 74.5 L60.46 74.5 L63.66 86.5 L135.48 86.5" stroke-opacity="0.384"/><path d="M52.96 77.5 L53.88 77.5 L61.02 77.5 L63.83 87.5 L135.48 87.5" stroke-opacity="0.324"/><path d="M53.45 77.5 L53.81 74.5 L60.59 74.5 L64.82 88.5 L135.48 88.5" stroke-opacity="0.264"/><path d="M53.35 77.5 L53.92 77.5 L60.37 77.5 L64.33 89.5 L135.48 89.5" stroke-opacity="0.144"/><path d="M53.03 77.5 L54.15 74.5 L60.48 74.5 L64.17 90.5 L135.48 90.5" stroke-opacity="0.204"/><path d="M53.4 77.5 L53.73 77.5 L60.63 77.5 L64.81 91.5 L135.48 91.5" stroke-opacity="0.204"/><path d="M53.31 77.5 L53.73 74.5 L60.36 74.5 L63.74 92.5 L135.48 92.5" stroke-opacity="0.264"/><path d="M53.42 77.5 L53.83 77.5 L60.87 77.5 L64.93 93.5 L135.48 93.5" stroke-opacity="0.264"/><path d="M53 77.5 L53.84 74.5 L61.02 74.5 L64.53 94.5 L135.48 94.5" stroke-opacity="0.324"/><path d="M52.95 77.5 L54.05 77.5 L60.56 77.5 L64.05 95.5 L135.48 95.5" stroke-opacity="0.204"/><path d="M52.77 77.5 L54.07 74.5 L60.99 74.5 L64.56 96.5 L135.48 96.5" stroke-opacity="0.264"/><path d="M53.43 77.5 L53.72 77.5 L60.51 77.5 L64.33 97.5 L135.48 97.5" stroke-opacity="0.084"/><path d="M53.44 77.5 L54.16 74.5 L60.61 74.5 L64.01 98.5 L135.48 98.5" stroke-opacity="0.264"/><path d="M53.07 77.5 L53.94 77.5 L61 77.5 L63.91 99.5 L135.48 99.5" stroke-opacity="0.084"/><path d="M53.33 77.5 L54.06 74.5 L60.92 74.5 L64.75 100.5 L135.48 100.5" stroke-opacity="0.084"/><path d="M53.2 77.5 L53.87 77.5 L60.57 77.5 L64.17 101.5 L135.48 101.5" stroke-opacity="0.384"/><path d="M53.32 77.5 L53.75 74.5 L60.48 74.5 L64.72 102.5 L135.48 102.5" stroke-opacity="0.744"/><path d="M52.94 77.5 L53.74 77.5 L60.36 77.5 L64.44 103.5 L135.48 103.5" stroke-opacity="0.384"/><path d="M53 77.5 L54.18 74.5 L60.97 74.5 L65.06 104.5 L135.48 104.5" stroke-opacity="0.624"/><path d="M52.95 77.5 L53.75 77.5 L60.41 77.5 L64.36 105.5 L135.48 105.5" stroke-opacity="0.444"/><path d="M53.27 77.5 L53.92 74.5 L60.51 74.5 L64.25 106.5 L135.48 106.5" stroke-opacity="0.504"/><path d="M53.2 77.5 L54.03 77.5 L60.87 77.5 L64.86 107.5 L135.48 107.5" stroke-opacity="0.324"/><path d="M53.24 77.5 L53.77 74.5 L60.94 74.5 L64.07 108.5 L135.48 108.5" stroke-opacity="0.03"/><path d="M53 77.5 L53.71 71.5 L60.81 71.5 L64.13 77.5 L135.48 77.5" stroke-opacity="0.9"/><path d="M53 77.5 L53.71 71.5 L60.81 71.5 L64.13 94.5 L135.48 94.5" stroke-opacity="0.6"/></g><path d="M44.76 77 L53 77 L54.18 74.66 L60.81 74.66 L64.93 93.38 L135.48 93.38" fill="none" stroke="#f22222" stroke-width="1.6" stroke-linejoin="round"/><path d="M44.29 111V112.3M46.85 111V112.3M48.12 111V112.3M50.82 111V112.3M58.11 111V112.3M59.39 111V112.3M60.72 111V112.3M62 111V112.3M73.27 111V112.3M82.88 111V112.3" stroke="#000" stroke-width="0.5" stroke-opacity="0.8"/><path d="M39.3 69V112.3H140.9" fill="none" stroke="#111" stroke-width="0.95"/><path d="M37.5 112.1H39.3M37.5 100.4H39.3M37.5 88.7H39.3M37.5 77H39.3M41.4 112.3V114.1M65.07 112.3V114.1M88.75 112.3V114.1M112.42 112.3V114.1M136.1 112.3V114.1" stroke="#333" stroke-width="0.7"/><g font-size="5.9" fill="#4d4d4d" opacity="0.999"><text transform="translate(36.1 114.42) scale(1 1.1)" text-anchor="end">-60%</text><text transform="translate(36.1 102.72) scale(1 1.1)" text-anchor="end">-40%</text><text transform="translate(36.1 91.02) scale(1 1.1)" text-anchor="end">-20%</text><text transform="translate(36.1 79.32) scale(1 1.1)" text-anchor="end">0%</text><text transform="translate(41.4 120.29) scale(1 1.1)" text-anchor="middle">0</text><text transform="translate(65.07 120.29) scale(1 1.1)" text-anchor="middle">50</text><text transform="translate(88.75 120.29) scale(1 1.1)" text-anchor="middle">100</text><text transform="translate(112.42 120.29) scale(1 1.1)" text-anchor="middle">150</text><text transform="translate(136.1 120.29) scale(1 1.1)" text-anchor="middle">200</text></g><text transform="translate(90.1 128.61) scale(1 1.1)" text-anchor="middle" font-size="7.4" fill="#000" opacity="0.999">Z4</text><g fill="none" stroke="#000" stroke-width="0.9" stroke-linejoin="round"><path d="M193.34 105.8 L196.62 71.9 L205.5 71.9 L206.86 82.5 L271.28 82.5" stroke-opacity="0.084"/><path d="M193.09 105.8 L196.79 73.07 L205.68 73.07 L206.9 83.5 L271.28 83.5" stroke-opacity="0.324"/><path d="M194.05 105.8 L196.36 73.34 L205.52 73.34 L207.13 84.5 L271.28 84.5" stroke-opacity="0.204"/><path d="M194.05 105.8 L195.89 72.75 L205.63 72.75 L207.13 85.5 L271.28 85.5" stroke-opacity="0.444"/><path d="M193.96 105.8 L195.82 72.72 L205.55 72.72 L206.8 86.5 L271.28 86.5" stroke-opacity="0.264"/><path d="M194.03 105.8 L196.44 79.52 L205.85 79.52 L206.92 87.5 L271.28 87.5" stroke-opacity="0.444"/><path d="M193.43 105.8 L196.07 75.52 L205.78 75.52 L207.19 88.5 L271.28 88.5" stroke-opacity="0.804"/><path d="M193.6 105.8 L196.49 83.2 L205.51 83.2 L206.92 89.5 L271.28 89.5" stroke-opacity="0.984"/><path d="M193.15 105.8 L196.07 84.41 L205.69 84.41 L207.05 90.5 L271.28 90.5" stroke-opacity="0.264"/><path d="M192.93 105.8 L196.15 85.41 L205.73 85.41 L206.83 91.5 L271.28 91.5" stroke-opacity="0.744"/><path d="M193.15 105.8 L196.69 86.02 L205.67 86.02 L206.77 92.5 L271.28 92.5" stroke-opacity="0.804"/><path d="M193.37 105.8 L196.41 89.24 L205.71 89.24 L206.78 93.5 L271.28 93.5" stroke-opacity="0.864"/><path d="M193.71 105.8 L196.25 90.23 L205.54 90.23 L206.89 94.5 L271.28 94.5" stroke-opacity="0.504"/><path d="M193.27 105.8 L196.42 85.31 L205.58 85.31 L206.94 95.5 L271.28 95.5" stroke-opacity="0.744"/><path d="M194.06 105.8 L196.19 87.53 L205.5 87.53 L207.09 96.5 L271.28 96.5" stroke-opacity="0.744"/><path d="M192.92 105.8 L196.81 94.4 L205.61 94.4 L207.13 97.5 L271.28 97.5" stroke-opacity="0.504"/><path d="M193.93 105.8 L196.3 94.26 L205.48 94.26 L206.75 98.5 L271.28 98.5" stroke-opacity="0.744"/><path d="M193.65 105.8 L196.82 94.57 L205.45 94.57 L207.04 99.5 L271.28 99.5" stroke-opacity="0.384"/><path d="M193.49 105.8 L195.94 97.54 L205.54 97.54 L206.99 100.5 L271.28 100.5" stroke-opacity="0.864"/><path d="M193.04 105.8 L196.34 94.53 L205.79 94.53 L207.2 101.5 L271.28 101.5" stroke-opacity="0.744"/><path d="M193.06 105.8 L196.86 101.96 L205.87 101.96 L206.97 102.5 L271.28 102.5" stroke-opacity="0.864"/><path d="M193.98 105.8 L196.22 104.63 L205.84 104.63 L207.04 103.5 L271.28 103.5" stroke-opacity="0.804"/><path d="M193.1 105.8 L196.68 99.85 L205.51 99.85 L206.93 104.5 L271.28 104.5" stroke-opacity="0.504"/><path d="M193.87 105.8 L195.99 101.18 L205.51 101.18 L206.93 105.5 L271.28 105.5" stroke-opacity="0.444"/><path d="M193.36 105.8 L195.92 105.35 L205.52 105.35 L207.09 106.5 L271.28 106.5" stroke-opacity="0.03"/><path d="M192.96 105.8 L196.42 103.76 L205.77 103.76 L206.76 107.5 L271.28 107.5" stroke-opacity="0.03"/><path d="M193.05 105.8 L196.46 105.74 L205.67 105.74 L207.04 108.5 L271.28 108.5" stroke-opacity="0.03"/><path d="M193.4 105.8 L196.44 105.8 L205.61 105.8 L207.05 109.5 L271.28 109.5" stroke-opacity="0.048"/><path d="M193.39 105.8 L196.25 71.9 L205.6 71.9 L206.93 85.5 L271.28 85.5" stroke-opacity="0.2"/><path d="M193.39 105.8 L196.25 73.26 L205.6 73.26 L206.93 85.5 L271.28 85.5" stroke-opacity="0.2"/><path d="M193.39 105.8 L196.25 74.61 L205.6 74.61 L206.93 85.5 L271.28 85.5" stroke-opacity="0.2"/><path d="M193.42 105.8 L195.8 102.45 L205.7 102.45 L206.97 94.5 L271.28 94.5" stroke-opacity="0.35"/><path d="M193.79 105.8 L196.67 101.57 L205.62 101.57 L206.83 94.5 L271.28 94.5" stroke-opacity="0.35"/><path d="M193.04 105.8 L195.92 100.39 L205.61 100.39 L206.78 94.5 L271.28 94.5" stroke-opacity="0.35"/><path d="M193.5 105.8 L195.82 99.4 L205.71 99.4 L206.78 94.5 L271.28 94.5" stroke-opacity="0.35"/><path d="M193.81 105.8 L196.36 98.18 L205.43 98.18 L206.98 94.5 L271.28 94.5" stroke-opacity="0.35"/><path d="M194 105.8 L195.93 97.41 L205.81 97.41 L207.21 94.5 L271.28 94.5" stroke-opacity="0.35"/><path d="M193.85 105.8 L196 96.15 L205.87 96.15 L206.97 94.5 L271.28 94.5" stroke-opacity="0.35"/><path d="M193.96 105.8 L195.97 94.98 L205.78 94.98 L207.18 94.5 L271.28 94.5" stroke-opacity="0.35"/><path d="M193.32 105.8 L196.64 94.57 L205.48 94.57 L207.17 94.5 L271.28 94.5" stroke-opacity="0.35"/><path d="M193.85 105.8 L195.94 93.41 L205.64 93.41 L207.18 94.5 L271.28 94.5" stroke-opacity="0.35"/><path d="M193.22 105.8 L196.36 92.44 L205.56 92.44 L206.76 94.5 L271.28 94.5" stroke-opacity="0.35"/><path d="M193.1 105.8 L196.85 91.44 L205.73 91.44 L207.17 94.5 L271.28 94.5" stroke-opacity="0.35"/><path d="M193.81 105.8 L195.91 90.43 L205.66 90.43 L207.04 94.5 L271.28 94.5" stroke-opacity="0.35"/><path d="M193.92 105.8 L196.41 89.28 L205.68 89.28 L207.16 94.5 L271.28 94.5" stroke-opacity="0.35"/><path d="M194.05 105.8 L196.5 88.44 L205.59 88.44 L207.12 94.5 L271.28 94.5" stroke-opacity="0.35"/><path d="M194.05 105.8 L196.44 87.31 L205.58 87.31 L207.1 94.5 L271.28 94.5" stroke-opacity="0.35"/><path d="M193.12 105.8 L196.63 86.18 L205.43 86.18 L207.13 94.5 L271.28 94.5" stroke-opacity="0.35"/><path d="M193.65 105.8 L196.9 85.29 L205.68 85.29 L207.06 94.5 L271.28 94.5" stroke-opacity="0.55"/><path d="M192.92 105.8 L195.82 84.23 L205.48 84.23 L207.03 94.5 L271.28 94.5" stroke-opacity="0.55"/><path d="M193.5 105.8 L196.8 83.13 L205.47 83.13 L206.85 94.5 L271.28 94.5" stroke-opacity="0.55"/><path d="M192.94 105.8 L195.78 81.97 L205.57 81.97 L206.79 94.5 L271.28 94.5" stroke-opacity="0.55"/><path d="M193.17 105.8 L196.44 81.15 L205.69 81.15 L206.84 94.5 L271.28 94.5" stroke-opacity="0.55"/><path d="M193.46 105.8 L195.93 79.95 L205.85 79.95 L206.86 94.5 L271.28 94.5" stroke-opacity="0.55"/><path d="M193.03 105.8 L196.51 79.26 L205.82 79.26 L207.11 94.5 L271.28 94.5" stroke-opacity="0.55"/><path d="M193.22 105.8 L195.79 78.07 L205.71 78.07 L207.01 94.5 L271.28 94.5" stroke-opacity="0.55"/><path d="M193.66 105.8 L196.28 77.09 L205.85 77.09 L207.09 94.5 L271.28 94.5" stroke-opacity="0.55"/></g><path d="M184.24 105.8 L193.11 105.8 L196.25 87.49 L205.6 87.49 L206.74 94.27 L271.28 94.27" fill="none" stroke="#f22222" stroke-width="1.6" stroke-linejoin="round"/><path d="M183.29 111V112.3M185 111V112.3M187.58 111V112.3M188.91 111V112.3M191.11 111V112.3M193.3 111V112.3M195.49 111V112.3M197.68 111V112.3M199.49 111V112.3M201.21 111V112.3M203.02 111V112.3M204.26 111V112.3" stroke="#000" stroke-width="0.5" stroke-opacity="0.8"/><path d="M179.2 69V112.3H275.9" fill="none" stroke="#111" stroke-width="0.95"/><path d="M177.4 112.58H179.2M177.4 105.8H179.2M177.4 99.02H179.2M177.4 92.24H179.2M177.4 85.46H179.2M177.4 78.68H179.2M177.4 71.9H179.2M181 112.3V114.1M204.83 112.3V114.1M228.67 112.3V114.1M252.5 112.3V114.1" stroke="#333" stroke-width="0.7"/><g font-size="5.9" fill="#4d4d4d" opacity="0.999"><text transform="translate(176 114.9) scale(1 1.1)" text-anchor="end">-10.0%</text><text transform="translate(176 108.12) scale(1 1.1)" text-anchor="end">0.0%</text><text transform="translate(176 101.34) scale(1 1.1)" text-anchor="end">10.0%</text><text transform="translate(176 94.56) scale(1 1.1)" text-anchor="end">20.0%</text><text transform="translate(176 87.78) scale(1 1.1)" text-anchor="end">30.0%</text><text transform="translate(176 81) scale(1 1.1)" text-anchor="end">40.0%</text><text transform="translate(176 74.22) scale(1 1.1)" text-anchor="end">50.0%</text><text transform="translate(181 120.29) scale(1 1.1)" text-anchor="middle">0</text><text transform="translate(204.83 120.29) scale(1 1.1)" text-anchor="middle">25</text><text transform="translate(228.67 120.29) scale(1 1.1)" text-anchor="middle">50</text><text transform="translate(252.5 120.29) scale(1 1.1)" text-anchor="middle">75</text></g><text transform="translate(227.55 128.61) scale(1 1.1)" text-anchor="middle" font-size="7.4" fill="#000" opacity="0.999">Z1</text><g fill="none" stroke="#000" stroke-width="0.9" stroke-linejoin="round"><path d="M353.58 110.5 L356.08 80.5 L404.84 80.5" stroke-opacity="0.9"/><path d="M353.58 110.5 L356.51 82.5 L404.84 82.5" stroke-opacity="0.3"/><path d="M353.58 110.5 L355.95 88.5 L404.84 88.5" stroke-opacity="0.9"/><path d="M353.58 110.5 L356.27 89.5 L404.84 89.5" stroke-opacity="0.8"/><path d="M353.58 110.5 L356.19 91.5 L404.84 91.5" stroke-opacity="0.5"/><path d="M353.58 110.5 L356.07 93.5 L404.84 93.5" stroke-opacity="0.4"/><path d="M353.58 110.5 L355.96 98.5 L404.84 98.5" stroke-opacity="0.7"/><path d="M353.58 110.5 L356.43 100.5 L404.84 100.5" stroke-opacity="0.6"/><path d="M353.58 110.5 L355.93 101.5 L404.84 101.5" stroke-opacity="0.5"/><path d="M353.58 110.5 L356.28 110.5 L404.84 110.5" stroke-opacity="0.6"/><path d="M353.58 110.5 L356.54 110.5 L404.84 110.5" stroke-opacity="0.4"/><path d="M353.58 110.5 L356.36 101.5 L360.55 101.5 L361.43 71.5 L404.84 71.5" stroke-opacity="0.45"/><path d="M353.58 110.5 L356.36 103.5 L360.55 103.5 L361.43 97.5 L404.84 97.5" stroke-opacity="0.5"/></g><path d="M311.84 110.6 L353.58 110.6 L356.36 97.5 L360.55 97.5 L361.43 96.05 L404.84 96.05" fill="none" stroke="#f22222" stroke-width="1.6" stroke-linejoin="round"/><path d="M312.28 111V112.3M335.64 111V112.3M351.77 111V112.3M355.39 111V112.3M358.3 111V112.3M362.71 111V112.3M365.61 111V112.3M367.82 111V112.3M370.68 111V112.3M372.93 111V112.3M375.75 111V112.3" stroke="#000" stroke-width="0.5" stroke-opacity="0.8"/><path d="M307.5 69V112.3H410.9" fill="none" stroke="#111" stroke-width="0.95"/><path d="M305.7 110.6H307.5M305.7 96.05H307.5M305.7 81.5H307.5M316.25 112.3V114.1M338.29 112.3V114.1M360.32 112.3V114.1M382.36 112.3V114.1M404.4 112.3V114.1" stroke="#333" stroke-width="0.7"/><g font-size="5.9" fill="#4d4d4d" opacity="0.999"><text transform="translate(304.3 112.92) scale(1 1.1)" text-anchor="end">0%</text><text transform="translate(304.3 98.37) scale(1 1.1)" text-anchor="end">10%</text><text transform="translate(304.3 83.82) scale(1 1.1)" text-anchor="end">20%</text><text transform="translate(316.25 120.29) scale(1 1.1)" text-anchor="middle">250</text><text transform="translate(338.29 120.29) scale(1 1.1)" text-anchor="middle">300</text><text transform="translate(360.32 120.29) scale(1 1.1)" text-anchor="middle">350</text><text transform="translate(382.36 120.29) scale(1 1.1)" text-anchor="middle">400</text><text transform="translate(404.4 120.29) scale(1 1.1)" text-anchor="middle">450</text></g><text transform="translate(359.2 128.61) scale(1 1.1)" text-anchor="middle" font-size="7.4" fill="#000" opacity="0.999">DSL</text><g fill="none" stroke="#000" stroke-width="0.9" stroke-linejoin="round"><path d="M486.55 110.5 L487.99 102.5 L498.58 102.5 L499.73 94.5 L501.64 94.5 L502.78 84.5 L504.5 84.5 L505.65 71.5 L540.49 71.5" stroke-opacity="0.9"/><path d="M486.55 110.5 L487.99 106.5 L499.25 106.5 L500.4 97.5 L502.59 97.5 L503.74 87.5 L505.46 87.5 L506.6 75.5 L540.49 75.5" stroke-opacity="0.55"/><path d="M487.99 110.5 L500.21 110.5 L501.35 99.5 L503.55 99.5 L504.69 89.5 L505.93 89.5 L507.08 77.5 L540.49 77.5" stroke-opacity="0.4"/><path d="M486.55 110.5 L487.99 106.5 L501.16 106.5 L502.31 95.5 L505.93 95.5 L507.08 79.5 L540.49 79.5" stroke-opacity="0.3"/><path d="M486.55 110.5 L487.99 106.5 L501.64 106.5 L502.78 91.5 L511.28 91.5 L512.43 82.5 L540.49 82.5" stroke-opacity="0.85"/><path d="M487.99 110.5 L502.12 110.5 L503.26 95.5 L511.28 95.5 L512.43 84.5 L540.49 84.5" stroke-opacity="0.35"/><path d="M486.55 110.5 L487.99 106.5 L502.12 106.5 L503.26 95.5 L511.28 95.5 L512.43 85.5 L540.49 85.5" stroke-opacity="0.35"/><path d="M486.55 110.5 L487.99 106.5 L500.21 106.5 L501.35 97.5 L507.84 97.5 L508.99 87.5 L540.49 87.5" stroke-opacity="0.25"/><path d="M487.99 110.5 L501.16 110.5 L502.31 99.5 L505.93 99.5 L507.08 91.5 L540.49 91.5" stroke-opacity="0.3"/><path d="M486.55 110.5 L487.99 106.5 L502.12 106.5 L503.26 94.5 L540.49 94.5" stroke-opacity="0.3"/><path d="M486.55 110.5 L487.99 106.5 L499.25 106.5 L500.4 101.5 L505.93 101.5 L507.08 95.5 L540.49 95.5" stroke-opacity="0.4"/><path d="M486.55 110.5 L487.99 102.5 L505.46 102.5 L506.6 98.5 L540.49 98.5" stroke-opacity="0.8"/><path d="M486.55 110.5 L487.99 106.5 L504.03 106.5 L505.17 100.5 L540.49 100.5" stroke-opacity="0.35"/><path d="M486.55 110.5 L487.99 106.5 L501.16 106.5 L502.31 102.5 L540.49 102.5" stroke-opacity="0.8"/><path d="M487.99 110.5 L511.28 110.5 L512.43 104.5 L540.49 104.5" stroke-opacity="0.4"/><path d="M486.55 110.5 L487.99 106.5 L511.28 106.5 L512.43 106.5 L540.49 106.5" stroke-opacity="0.5"/><path d="M487.99 110.5 L525.03 110.5 L526.17 106.5 L525.7 106.5 L526.94 105.5 L540.49 105.5" stroke-opacity="0.6"/><path d="M486.55 110.5 L487.99 106.5 L511.28 106.5 L512.43 107.5 L525.7 107.5 L526.94 106.5 L540.49 106.5" stroke-opacity="0.6"/><path d="M487.99 110.5 L511.28 110.5 L512.43 108.5 L540.49 108.5" stroke-opacity="0.5"/><path d="M487.99 110.5 L525.03 110.5 L526.17 109.5 L525.7 109.5 L526.94 106.5 L540.49 106.5" stroke-opacity="0.4"/><path d="M487.99 110.5 L498.58 110.5 L499.73 109.5 L540.49 109.5" stroke-opacity="0.9"/><path d="M487.99 110.5 L498.58 110.5 L499.73 110.5 L540.49 110.5" stroke-opacity="0.5"/><path d="M486.55 110.5 L487.99 106.5 L499.25 106.5 L500.4 95.5 L502.12 95.5 L503.26 85.5 L505.46 85.5 L506.6 73.5 L540.49 73.5" stroke-opacity="0.35"/><path d="M486.55 110.5 L487.99 106.5 L500.21 106.5 L501.35 95.5 L503.07 95.5 L504.22 87.5 L505.93 87.5 L507.08 76.5 L540.49 76.5" stroke-opacity="0.45"/><path d="M487.99 110.5 L501.16 110.5 L502.31 97.5 L504.03 97.5 L505.17 78.5 L540.49 78.5" stroke-opacity="0.3"/><path d="M486.55 110.5 L487.99 106.5 L501.64 106.5 L502.78 94.5 L506.41 94.5 L507.56 80.5 L540.49 80.5" stroke-opacity="0.35"/><path d="M486.55 110.5 L487.99 106.5 L501.16 106.5 L502.31 98.5 L508.8 98.5 L509.94 86.5 L540.49 86.5" stroke-opacity="0.4"/><path d="M486.55 110.5 L487.99 106.5 L502.12 106.5 L503.26 90.5 L540.49 90.5" stroke-opacity="0.3"/><path d="M487.99 110.5 L501.16 110.5 L502.31 101.5 L504.5 101.5 L505.65 93.5 L540.49 93.5" stroke-opacity="0.35"/><path d="M486.55 110.5 L487.99 106.5 L503.07 106.5 L504.22 96.5 L540.49 96.5" stroke-opacity="0.45"/><path d="M486.55 110.5 L487.99 106.5 L502.12 106.5 L503.26 100.5 L540.49 100.5" stroke-opacity="0.4"/><path d="M486.55 110.5 L487.99 106.5 L504.03 106.5 L505.17 103.5 L540.49 103.5" stroke-opacity="0.45"/><path d="M487.99 110.5 L507.84 110.5 L508.99 105.5 L525.7 105.5 L526.94 103.5 L540.49 103.5" stroke-opacity="0.5"/><path d="M486.55 110.5 L487.99 106.5 L507.84 106.5 L508.99 106.5 L540.49 106.5" stroke-opacity="0.55"/><path d="M487.99 110.5 L504.03 110.5 L505.17 108.5 L540.49 108.5" stroke-opacity="0.6"/></g><path d="M452.19 110.6 L486.55 110.6 L487.99 106.83 L499.73 106.83 L503.07 98.91 L506.7 91.75 L526.17 91.75 L527.61 89.64 L540.49 89.64" fill="none" stroke="#f22222" stroke-width="1.6" stroke-linejoin="round"/><path d="M452 111V112.3M473.95 111V112.3M490.66 111V112.3M498.01 111V112.3M505.27 111V112.3M507.37 111V112.3M509.56 111V112.3M512.62 111V112.3M514.72 111V112.3M516.82 111V112.3M519.87 111V112.3" stroke="#000" stroke-width="0.5" stroke-opacity="0.8"/><path d="M446.7 69V112.3H545.9" fill="none" stroke="#111" stroke-width="0.95"/><path d="M444.9 110.6H446.7M444.9 103.06H446.7M444.9 95.52H446.7M444.9 87.98H446.7M444.9 80.44H446.7M444.9 72.9H446.7M449.8 112.3V114.1M473.67 112.3V114.1M497.53 112.3V114.1M521.4 112.3V114.1" stroke="#333" stroke-width="0.7"/><g font-size="5.9" fill="#4d4d4d" opacity="0.999"><text transform="translate(443.5 112.92) scale(1 1.1)" text-anchor="end">0.0%</text><text transform="translate(443.5 105.38) scale(1 1.1)" text-anchor="end">10.0%</text><text transform="translate(443.5 97.84) scale(1 1.1)" text-anchor="end">20.0%</text><text transform="translate(443.5 90.3) scale(1 1.1)" text-anchor="end">30.0%</text><text transform="translate(443.5 82.76) scale(1 1.1)" text-anchor="end">40.0%</text><text transform="translate(443.5 75.22) scale(1 1.1)" text-anchor="end">50.0%</text><text transform="translate(449.8 120.29) scale(1 1.1)" text-anchor="middle">0</text><text transform="translate(473.67 120.29) scale(1 1.1)" text-anchor="middle">25</text><text transform="translate(497.53 120.29) scale(1 1.1)" text-anchor="middle">50</text><text transform="translate(521.4 120.29) scale(1 1.1)" text-anchor="middle">75</text></g><text transform="translate(496.3 128.61) scale(1 1.1)" text-anchor="middle" font-size="7.4" fill="#000" opacity="0.999">TalV</text><g fill="none" stroke="#000" stroke-width="0.9" stroke-linejoin="round"><path d="M597 71.5 L598.99 71.5 L675.61 71.5" stroke-opacity="0.95"/><path d="M597 71.5 L599.06 73.5 L675.61 73.5" stroke-opacity="0.35"/><path d="M597 71.5 L599.51 75.5 L675.61 75.5" stroke-opacity="0.55"/><path d="M597 71.5 L599.4 78.5 L675.61 78.5" stroke-opacity="0.9"/><path d="M597 71.5 L599.55 80.5 L675.61 80.5" stroke-opacity="0.55"/><path d="M597 71.5 L599.74 81.5 L675.61 81.5" stroke-opacity="0.9"/><path d="M597 71.5 L599.03 84.5 L675.61 84.5" stroke-opacity="0.5"/><path d="M597 71.5 L599.18 86.5 L675.61 86.5" stroke-opacity="0.55"/><path d="M597 71.5 L599.17 88.5 L675.61 88.5" stroke-opacity="0.55"/><path d="M597 71.5 L598.89 90.5 L675.61 90.5" stroke-opacity="0.6"/><path d="M597 71.5 L599.82 93.5 L675.61 93.5" stroke-opacity="0.6"/><path d="M597 71.5 L599.71 96.5 L675.61 96.5" stroke-opacity="0.9"/><path d="M597 71.5 L599.63 99.5 L675.61 99.5" stroke-opacity="0.25"/><path d="M597 71.5 L598.84 103.5 L675.61 103.5" stroke-opacity="0.65"/><path d="M597 71.5 L599.77 110.5 L675.61 110.5" stroke-opacity="0.95"/><path d="M597 71.5 L599.66 111.5 L675.61 111.5" stroke-opacity="0.35"/></g><path d="M583.51 71.5 L597.09 71.5 L599.2 91.23 L675.61 91.23" fill="none" stroke="#f22222" stroke-width="1.6" stroke-linejoin="round"/><path d="M583.51 111V112.3M593.28 111V112.3M594.12 111V112.3M594.81 111V112.3M595.5 111V112.3M596.2 111V112.3M605 111V112.3M612.3 111V112.3" stroke="#000" stroke-width="0.5" stroke-opacity="0.8"/><path d="M578.75 69V112.3H680.9" fill="none" stroke="#111" stroke-width="0.95"/><path d="M576.95 108.5H578.75M576.95 96.17H578.75M576.95 83.83H578.75M576.95 71.5H578.75M579.4 112.3V114.1M607.17 112.3V114.1M634.93 112.3V114.1M662.7 112.3V114.1" stroke="#333" stroke-width="0.7"/><g font-size="5.9" fill="#4d4d4d" opacity="0.999"><text transform="translate(575.55 110.82) scale(1 1.1)" text-anchor="end">-30%</text><text transform="translate(575.55 98.49) scale(1 1.1)" text-anchor="end">-20%</text><text transform="translate(575.55 86.16) scale(1 1.1)" text-anchor="end">-10%</text><text transform="translate(575.55 73.82) scale(1 1.1)" text-anchor="end">0%</text><text transform="translate(579.4 120.29) scale(1 1.1)" text-anchor="middle">0</text><text transform="translate(607.17 120.29) scale(1 1.1)" text-anchor="middle">100</text><text transform="translate(634.93 120.29) scale(1 1.1)" text-anchor="middle">200</text><text transform="translate(662.7 120.29) scale(1 1.1)" text-anchor="middle">300</text></g><text transform="translate(629.83 128.61) scale(1 1.1)" text-anchor="middle" font-size="7.4" fill="#000" opacity="0.999">Z5</text><g fill="none" stroke="#000" stroke-width="0.9" stroke-linejoin="round"><path d="M70.2 139.5 L71.89 139.5 L74.8 139.5 L76.21 138.5 L80.54 138.5 L81.85 138.5 L83.08 138.5 L84.2 138.5 L135.62 138.5" stroke-opacity="0.03"/><path d="M70.2 139.5 L71.89 143.5 L74.8 143.5 L76.21 139.5 L80.54 139.5 L81.85 139.5 L83.08 139.5 L84.2 139.5 L135.62 139.5" stroke-opacity="0.984"/><path d="M70.2 139.5 L71.89 143.5 L74.8 143.5 L76.21 140.5 L80.54 140.5 L81.85 140.5 L83.08 140.5 L84.2 140.5 L135.62 140.5" stroke-opacity="0.324"/><path d="M70.2 139.5 L71.89 141.5 L74.8 141.5 L76.21 141.5 L80.54 141.5 L81.85 141.5 L83.08 141.5 L84.2 141.5 L135.62 141.5" stroke-opacity="0.204"/><path d="M70.2 139.5 L71.89 139.5 L74.8 139.5 L76.21 142.5 L80.54 142.5 L81.85 142.5 L83.08 142.5 L84.2 142.5 L135.62 142.5" stroke-opacity="0.264"/><path d="M70.2 139.5 L71.89 144.5 L74.8 144.5 L76.21 143.5 L80.54 143.5 L81.85 143.5 L83.08 143.5 L84.2 143.5 L135.62 143.5" stroke-opacity="0.204"/><path d="M70.2 139.5 L71.89 139.5 L74.8 139.5 L76.21 139.5 L80.54 139.5 L81.85 144.5 L83.08 144.5 L84.2 144.5 L135.62 144.5" stroke-opacity="0.384"/><path d="M70.2 139.5 L71.89 143.5 L74.8 143.5 L76.21 147.5 L80.54 147.5 L81.85 145.5 L83.08 145.5 L84.2 145.5 L135.62 145.5" stroke-opacity="0.084"/><path d="M70.2 139.5 L71.89 143.5 L74.8 143.5 L76.21 149.5 L80.54 149.5 L81.85 146.5 L83.08 146.5 L84.2 146.5 L135.62 146.5" stroke-opacity="0.324"/><path d="M70.2 139.5 L71.89 141.5 L74.8 141.5 L76.21 141.5 L80.54 141.5 L81.85 147.5 L83.08 147.5 L84.2 147.5 L135.62 147.5" stroke-opacity="0.444"/><path d="M70.2 139.5 L71.89 139.5 L74.8 139.5 L76.21 146.5 L80.54 146.5 L81.85 148.5 L83.08 148.5 L84.2 148.5 L135.62 148.5" stroke-opacity="0.324"/><path d="M70.2 139.5 L71.89 144.5 L74.8 144.5 L76.21 154.5 L80.54 154.5 L81.85 149.5 L83.08 149.5 L84.2 149.5 L135.62 149.5" stroke-opacity="0.204"/><path d="M70.2 139.5 L71.89 139.5 L74.8 139.5 L76.21 139.5 L80.54 139.5 L81.85 150.5 L83.08 150.5 L84.2 150.5 L135.62 150.5" stroke-opacity="0.03"/><path d="M70.2 139.5 L71.89 143.5 L74.8 143.5 L76.21 147.5 L80.54 147.5 L81.85 152.5 L83.08 152.5 L84.2 152.5 L135.62 152.5" stroke-opacity="0.144"/><path d="M70.2 139.5 L71.89 143.5 L74.8 143.5 L76.21 149.5 L80.54 149.5 L81.85 153.5 L83.08 153.5 L84.2 153.5 L135.62 153.5" stroke-opacity="0.03"/><path d="M70.2 139.5 L71.89 141.5 L74.8 141.5 L76.21 141.5 L80.54 141.5 L81.85 154.5 L83.08 154.5 L84.2 154.5 L135.62 154.5" stroke-opacity="0.144"/><path d="M70.2 139.5 L71.89 139.5 L74.8 139.5 L76.21 146.5 L80.54 146.5 L81.85 155.5 L83.08 155.5 L84.2 155.5 L135.62 155.5" stroke-opacity="0.03"/><path d="M70.2 139.5 L71.89 144.5 L74.8 144.5 L76.21 154.5 L80.54 154.5 L81.85 156.5 L83.08 156.5 L84.2 156.5 L135.62 156.5" stroke-opacity="0.03"/><path d="M70.2 139.5 L71.89 139.5 L74.8 139.5 L76.21 139.5 L80.54 139.5 L81.85 157.5 L83.08 157.5 L84.2 157.5 L135.62 157.5" stroke-opacity="0.144"/><path d="M70.2 139.5 L71.89 143.5 L74.8 143.5 L76.21 147.5 L80.54 147.5 L81.85 158.5 L83.08 158.5 L84.2 158.5 L135.62 158.5" stroke-opacity="0.144"/><path d="M70.2 139.5 L71.89 143.5 L74.8 143.5 L76.21 149.5 L80.54 149.5 L81.85 159.5 L83.08 159.5 L84.2 159.5 L135.62 159.5" stroke-opacity="0.03"/><path d="M70.2 139.5 L71.89 141.5 L74.8 141.5 L76.21 141.5 L80.54 141.5 L81.85 160.5 L83.08 160.5 L84.2 160.5 L135.62 160.5" stroke-opacity="0.144"/><path d="M70.2 139.5 L71.89 139.5 L74.8 139.5 L76.21 146.5 L80.54 146.5 L81.85 160.5 L83.08 160.5 L84.2 161.5 L135.62 161.5" stroke-opacity="0.03"/><path d="M70.2 139.5 L71.89 144.5 L74.8 144.5 L76.21 154.5 L80.54 154.5 L81.85 160.5 L83.08 160.5 L84.2 163.5 L135.62 163.5" stroke-opacity="0.048"/><path d="M70.2 139.5 L71.89 139.5 L74.8 139.5 L76.21 139.5 L80.54 139.5 L81.85 160.5 L83.08 160.5 L84.2 164.5 L135.62 164.5" stroke-opacity="0.324"/><path d="M70.2 139.5 L71.89 143.5 L74.8 143.5 L76.21 147.5 L80.54 147.5 L81.85 160.5 L83.08 160.5 L84.2 165.5 L135.62 165.5" stroke-opacity="0.144"/><path d="M70.2 139.5 L71.89 143.5 L74.8 143.5 L76.21 149.5 L80.54 149.5 L81.85 160.5 L83.08 160.5 L84.2 166.5 L135.62 166.5" stroke-opacity="0.264"/><path d="M70.2 139.5 L71.89 141.5 L74.8 141.5 L76.21 141.5 L80.54 141.5 L81.85 160.5 L83.08 160.5 L84.2 167.5 L135.62 167.5" stroke-opacity="0.204"/><path d="M70.2 139.5 L71.89 139.5 L74.8 139.5 L76.21 146.5 L80.54 146.5 L81.85 160.5 L83.08 160.5 L84.2 168.5 L135.62 168.5" stroke-opacity="0.264"/><path d="M70.2 139.5 L71.89 144.5 L74.8 144.5 L76.21 154.5 L80.54 154.5 L81.85 160.5 L83.08 160.5 L84.2 169.5 L135.62 169.5" stroke-opacity="0.03"/><path d="M70.2 139.5 L71.89 139.5 L74.8 139.5 L76.21 139.5 L80.54 139.5 L81.85 160.5 L83.08 160.5 L84.2 170.5 L135.62 170.5" stroke-opacity="0.144"/><path d="M70.2 139.5 L71.89 143.5 L74.8 143.5 L76.21 147.5 L80.54 147.5 L81.85 160.5 L83.08 160.5 L84.2 171.5 L135.62 171.5" stroke-opacity="0.324"/><path d="M70.2 139.5 L71.89 143.5 L74.8 143.5 L76.21 149.5 L80.54 149.5 L81.85 160.5 L83.08 160.5 L84.2 172.5 L135.62 172.5" stroke-opacity="0.924"/><path d="M70.2 139.5 L71.89 141.5 L74.8 141.5 L76.21 141.5 L80.54 141.5 L81.85 160.5 L83.08 160.5 L84.2 173.5 L135.62 173.5" stroke-opacity="0.264"/><path d="M70.2 139.5 L71.89 139.5 L74.8 139.5 L76.21 146.5 L80.54 146.5 L81.85 160.5 L83.08 160.5 L84.2 174.5 L135.62 174.5" stroke-opacity="0.864"/><path d="M70.2 139.5 L71.89 144.5 L74.8 144.5 L76.21 154.5 L80.54 154.5 L81.85 160.5 L83.08 160.5 L84.2 175.5 L135.62 175.5" stroke-opacity="0.384"/><path d="M70.2 139.5 L71.89 139.5 L74.8 139.5 L76.21 139.5 L80.54 139.5 L81.85 160.5 L83.08 160.5 L84.2 176.5 L135.62 176.5" stroke-opacity="0.324"/><path d="M70.2 139.5 L71.89 143.5 L74.8 143.5 L76.21 147.5 L80.54 147.5 L81.85 160.5 L83.08 160.5 L84.2 178.5 L135.62 178.5" stroke-opacity="0.444"/><path d="M70.2 139.5 L71.89 143.5 L74.8 143.5 L76.21 149.5 L80.54 149.5 L81.85 160.5 L83.08 160.5 L84.2 179.5 L135.62 179.5" stroke-opacity="0.564"/></g><path d="M48.95 139.5 L70.2 139.5 L71.89 144.41 L74.8 144.41 L76.21 148.41 L80.54 148.41 L81.85 151.99 L84.39 158.4 L135.62 158.4" fill="none" stroke="#f22222" stroke-width="1.6" stroke-linejoin="round"/><path d="M48.58 179V180.3M59.48 179V180.3M63.15 179V180.3M65.4 179V180.3M66.81 179V180.3M68.32 179V180.3M69.73 179V180.3M78.47 179V180.3" stroke="#000" stroke-width="0.5" stroke-opacity="0.8"/><path d="M44.5 137.1V180.3H140.9" fill="none" stroke="#111" stroke-width="0.95"/><path d="M42.7 172.8H44.5M42.7 164.48H44.5M42.7 156.15H44.5M42.7 147.82H44.5M42.7 139.5H44.5M45.1 180.3V182.1M68.6 180.3V182.1M92.1 180.3V182.1M115.6 180.3V182.1M139.1 180.3V182.1" stroke="#333" stroke-width="0.7"/><g font-size="5.9" fill="#4d4d4d" opacity="0.999"><text transform="translate(41.3 175.12) scale(1 1.1)" text-anchor="end">-40.0%</text><text transform="translate(41.3 166.8) scale(1 1.1)" text-anchor="end">-30.0%</text><text transform="translate(41.3 158.47) scale(1 1.1)" text-anchor="end">-20.0%</text><text transform="translate(41.3 150.15) scale(1 1.1)" text-anchor="end">-10.0%</text><text transform="translate(41.3 141.82) scale(1 1.1)" text-anchor="end">0.0%</text><text transform="translate(45.1 188.29) scale(1 1.1)" text-anchor="middle">0</text><text transform="translate(68.6 188.29) scale(1 1.1)" text-anchor="middle">25</text><text transform="translate(92.1 188.29) scale(1 1.1)" text-anchor="middle">50</text><text transform="translate(115.6 188.29) scale(1 1.1)" text-anchor="middle">75</text><text transform="translate(139.1 188.29) scale(1 1.1)" text-anchor="middle">100</text></g><text transform="translate(92.7 196.61) scale(1 1.1)" text-anchor="middle" font-size="7.4" fill="#000" opacity="0.999">j3</text><g fill="none" stroke="#000" stroke-width="0.9" stroke-linejoin="round"><path d="M192.57 171.5 L194.61 139.5 L201.68 139.5 L203.09 156.5 L270.26 156.5" stroke-opacity="0.9"/><path d="M192.36 171.5 L194.32 148.5 L201.49 148.5 L203.14 159.5 L270.26 159.5" stroke-opacity="0.35"/><path d="M192.73 171.5 L194.59 149.5 L201.87 149.5 L203.32 164.5 L270.26 164.5" stroke-opacity="0.9"/><path d="M192.45 171.5 L194.51 158.5 L201.68 158.5 L203.35 166.5 L270.26 166.5" stroke-opacity="0.5"/><path d="M192.6 171.5 L194.34 168.5 L201.77 168.5 L203.44 170.5 L270.26 170.5" stroke-opacity="0.9"/><path d="M192.43 171.5 L194.69 158.5 L201.48 158.5 L203.1 175.5 L270.26 175.5" stroke-opacity="0.9"/><path d="M192.44 171.5 L194.61 175.5 L201.92 175.5 L203.33 178.5 L270.26 178.5" stroke-opacity="0.55"/><path d="M192.49 171.5 L194.69 175.5 L201.62 175.5 L203.09 179.5 L270.26 179.5" stroke-opacity="0.5"/><path d="M192.82 171.5 L194.55 148.5 L201.8 148.5 L203.3 164.5 L270.26 164.5" stroke-opacity="0.4"/><path d="M192.86 171.5 L194.46 168.5 L201.87 168.5 L203.31 166.5 L270.26 166.5" stroke-opacity="0.4"/></g><path d="M182.38 171.9 L192.3 171.9 L194.48 157.59 L201.47 157.59 L202.98 167.84 L270.26 167.84" fill="none" stroke="#f22222" stroke-width="1.6" stroke-linejoin="round"/><path d="M181.06 179V180.3M183.32 179V180.3M185.5 179V180.3M187.67 179V180.3M189.85 179V180.3M195.04 179V180.3M197.22 179V180.3M198.63 179V180.3" stroke="#000" stroke-width="0.5" stroke-opacity="0.8"/><path d="M177.3 137.1V180.3H275.9" fill="none" stroke="#111" stroke-width="0.95"/><path d="M175.5 171.9H177.3M175.5 162.23H177.3M175.5 152.57H177.3M175.5 142.9H177.3M178.6 180.3V182.1M202.22 180.3V182.1M225.85 180.3V182.1M249.48 180.3V182.1M273.1 180.3V182.1" stroke="#333" stroke-width="0.7"/><g font-size="5.9" fill="#4d4d4d" opacity="0.999"><text transform="translate(174.1 174.22) scale(1 1.1)" text-anchor="end">0.0%</text><text transform="translate(174.1 164.56) scale(1 1.1)" text-anchor="end">5.0%</text><text transform="translate(174.1 154.89) scale(1 1.1)" text-anchor="end">10.0%</text><text transform="translate(174.1 145.22) scale(1 1.1)" text-anchor="end">15.0%</text><text transform="translate(178.6 188.29) scale(1 1.1)" text-anchor="middle">0</text><text transform="translate(202.22 188.29) scale(1 1.1)" text-anchor="middle">25</text><text transform="translate(225.85 188.29) scale(1 1.1)" text-anchor="middle">50</text><text transform="translate(249.48 188.29) scale(1 1.1)" text-anchor="middle">75</text><text transform="translate(273.1 188.29) scale(1 1.1)" text-anchor="middle">100</text></g><text transform="translate(226.6 196.61) scale(1 1.1)" text-anchor="middle" font-size="7.4" fill="#000" opacity="0.999">z2</text><g fill="none" stroke="#000" stroke-width="0.9" stroke-linejoin="round"><path d="M326.86 146.5 L328 139.5 L330.43 139.5 L331.28 139.5 L335.56 139.5 L336.41 139.5 L342.54 139.5 L344.82 145.5 L405.66 145.5" stroke-opacity="0.144"/><path d="M326.86 146.5 L328 143.5 L330.43 143.5 L331.28 155.5 L335.56 155.5 L336.41 155.5 L342.54 155.5 L344.82 146.5 L405.66 146.5" stroke-opacity="0.984"/><path d="M326.86 146.5 L328 146.5 L330.43 146.5 L331.28 143.5 L335.56 143.5 L336.41 143.5 L342.54 143.5 L344.82 147.5 L405.66 147.5" stroke-opacity="0.084"/><path d="M326.86 146.5 L328 139.5 L330.43 139.5 L331.28 146.5 L335.56 146.5 L336.41 146.5 L342.54 146.5 L344.82 148.5 L405.66 148.5" stroke-opacity="0.324"/><path d="M326.86 146.5 L328 143.5 L330.43 143.5 L331.28 143.5 L335.56 143.5 L336.41 162.5 L342.54 162.5 L344.82 149.5 L405.66 149.5" stroke-opacity="0.624"/><path d="M326.86 146.5 L328 146.5 L330.43 146.5 L331.28 143.5 L335.56 143.5 L336.41 143.5 L342.54 143.5 L344.82 152.5 L405.66 152.5" stroke-opacity="0.03"/><path d="M326.86 146.5 L328 139.5 L330.43 139.5 L331.28 139.5 L335.56 139.5 L336.41 139.5 L342.54 139.5 L344.82 153.5 L405.66 153.5" stroke-opacity="0.048"/><path d="M326.86 146.5 L328 143.5 L330.43 143.5 L331.28 155.5 L335.56 155.5 L336.41 155.5 L342.54 155.5 L344.82 154.5 L405.66 154.5" stroke-opacity="0.144"/><path d="M326.86 146.5 L328 146.5 L330.43 146.5 L331.28 143.5 L335.56 143.5 L336.41 143.5 L342.54 143.5 L344.82 155.5 L405.66 155.5" stroke-opacity="0.144"/><path d="M326.86 146.5 L328 139.5 L330.43 139.5 L331.28 146.5 L335.56 146.5 L336.41 146.5 L342.54 146.5 L344.82 156.5 L405.66 156.5" stroke-opacity="0.144"/><path d="M326.86 146.5 L328 143.5 L330.43 143.5 L331.28 143.5 L335.56 143.5 L336.41 162.5 L342.54 162.5 L344.82 157.5 L405.66 157.5" stroke-opacity="0.144"/><path d="M326.86 146.5 L328 146.5 L330.43 146.5 L331.28 143.5 L335.56 143.5 L336.41 143.5 L342.54 143.5 L344.82 158.5 L405.66 158.5" stroke-opacity="0.444"/><path d="M326.86 146.5 L328 139.5 L330.43 139.5 L331.28 139.5 L335.56 139.5 L336.41 139.5 L342.54 139.5 L344.82 159.5 L405.66 159.5" stroke-opacity="0.084"/><path d="M326.86 146.5 L328 143.5 L330.43 143.5 L331.28 155.5 L335.56 155.5 L336.41 155.5 L342.54 155.5 L344.82 160.5 L405.66 160.5" stroke-opacity="0.264"/><path d="M326.86 146.5 L328 146.5 L330.43 146.5 L331.28 143.5 L335.56 143.5 L336.41 143.5 L342.54 143.5 L344.82 161.5 L405.66 161.5" stroke-opacity="0.084"/><path d="M326.86 146.5 L328 139.5 L330.43 139.5 L331.28 146.5 L335.56 146.5 L336.41 146.5 L342.54 146.5 L344.82 162.5 L405.66 162.5" stroke-opacity="0.804"/><path d="M326.86 146.5 L328 143.5 L330.43 143.5 L331.28 143.5 L335.56 143.5 L336.41 162.5 L342.54 162.5 L344.82 163.5 L405.66 163.5" stroke-opacity="0.504"/><path d="M326.86 146.5 L328 146.5 L330.43 146.5 L331.28 143.5 L335.56 143.5 L336.41 143.5 L342.54 143.5 L344.82 164.5 L405.66 164.5" stroke-opacity="0.444"/><path d="M326.86 146.5 L328 139.5 L330.43 139.5 L331.28 139.5 L335.56 139.5 L336.41 139.5 L342.54 139.5 L344.82 165.5 L405.66 165.5" stroke-opacity="0.444"/><path d="M326.86 146.5 L328 143.5 L330.43 143.5 L331.28 155.5 L335.56 155.5 L336.41 155.5 L342.54 155.5 L344.82 166.5 L405.66 166.5" stroke-opacity="0.444"/><path d="M326.86 146.5 L328 146.5 L330.43 146.5 L331.28 143.5 L335.56 143.5 L336.41 143.5 L342.54 143.5 L344.82 167.5 L405.66 167.5" stroke-opacity="0.264"/><path d="M326.86 146.5 L328 139.5 L330.43 139.5 L331.28 146.5 L335.56 146.5 L336.41 146.5 L342.54 146.5 L344.82 169.5 L405.66 169.5" stroke-opacity="0.804"/><path d="M326.86 146.5 L328 143.5 L330.43 143.5 L331.28 143.5 L335.56 143.5 L336.41 162.5 L342.54 162.5 L344.82 170.5 L405.66 170.5" stroke-opacity="0.03"/><path d="M326.86 146.5 L328 146.5 L330.43 146.5 L331.28 143.5 L335.56 143.5 L336.41 143.5 L342.54 143.5 L344.82 171.5 L405.66 171.5" stroke-opacity="0.03"/><path d="M326.86 146.5 L328 139.5 L330.43 139.5 L331.28 139.5 L335.56 139.5 L336.41 139.5 L342.54 139.5 L344.82 172.5 L405.66 172.5" stroke-opacity="0.03"/><path d="M326.86 146.5 L328 143.5 L330.43 143.5 L331.28 155.5 L335.56 155.5 L336.41 155.5 L342.54 155.5 L344.82 178.5 L405.66 178.5" stroke-opacity="0.324"/><path d="M326.86 146.5 L328 146.5 L330.43 146.5 L331.28 143.5 L335.56 143.5 L336.41 143.5 L342.54 143.5 L344.82 179.5 L405.66 179.5" stroke-opacity="0.384"/></g><path d="M313.32 146.7 L326.86 146.7 L328.29 142.76 L330.85 142.76 L331.85 143.53 L342.54 143.53 L344.82 156.21 L405.66 156.21" fill="none" stroke="#f22222" stroke-width="1.6" stroke-linejoin="round"/><path d="M313.47 179V180.3M320.45 179V180.3M322.59 179V180.3M324.72 179V180.3M328.43 179V180.3M330.57 179V180.3M332.85 179V180.3M334.99 179V180.3M337.26 179V180.3M339.4 179V180.3M351.8 179V180.3" stroke="#000" stroke-width="0.5" stroke-opacity="0.8"/><path d="M309.7 137.1V180.3H410.9" fill="none" stroke="#111" stroke-width="0.95"/><path d="M307.9 179.5H309.7M307.9 168.57H309.7M307.9 157.63H309.7M307.9 146.7H309.7M334.7 180.3V182.1M363.2 180.3V182.1M391.7 180.3V182.1" stroke="#333" stroke-width="0.7"/><g font-size="5.9" fill="#4d4d4d" opacity="0.999"><text transform="translate(306.5 181.82) scale(1 1.1)" text-anchor="end">-30%</text><text transform="translate(306.5 170.89) scale(1 1.1)" text-anchor="end">-20%</text><text transform="translate(306.5 159.96) scale(1 1.1)" text-anchor="end">-10%</text><text transform="translate(306.5 149.02) scale(1 1.1)" text-anchor="end">0%</text><text transform="translate(334.7 188.29) scale(1 1.1)" text-anchor="middle">20</text><text transform="translate(363.2 188.29) scale(1 1.1)" text-anchor="middle">40</text><text transform="translate(391.7 188.29) scale(1 1.1)" text-anchor="middle">60</text></g><text transform="translate(360.3 196.61) scale(1 1.1)" text-anchor="middle" font-size="7.4" fill="#000" opacity="0.999">r3</text><g fill="none" stroke="#000" stroke-width="0.9" stroke-linejoin="round"><path d="M460.39 147.5 L461.89 139.5 L467.01 139.5 L470.09 139.5 L540.52 139.5" stroke-opacity="0.204"/><path d="M460.39 147.5 L461.89 143.5 L467.01 143.5 L469.44 140.5 L540.52 140.5" stroke-opacity="0.03"/><path d="M460.39 147.5 L461.89 143.5 L467.01 143.5 L469.89 141.5 L540.52 141.5" stroke-opacity="0.048"/><path d="M460.39 147.5 L461.89 147.5 L467.01 147.5 L469.65 142.5 L540.52 142.5" stroke-opacity="0.144"/><path d="M460.39 147.5 L461.89 149.5 L467.01 149.5 L469.24 143.5 L540.52 143.5" stroke-opacity="0.03"/><path d="M460.39 147.5 L461.89 143.5 L467.01 143.5 L469.09 144.5 L540.52 144.5" stroke-opacity="0.384"/><path d="M460.39 147.5 L461.89 139.5 L467.01 139.5 L469.73 145.5 L540.52 145.5" stroke-opacity="0.804"/><path d="M460.39 147.5 L461.89 143.5 L467.01 143.5 L468.88 146.5 L540.52 146.5" stroke-opacity="0.624"/><path d="M460.39 147.5 L461.89 143.5 L467.01 143.5 L470.18 147.5 L540.52 147.5" stroke-opacity="0.324"/><path d="M460.39 147.5 L461.89 147.5 L467.01 147.5 L468.98 148.5 L540.52 148.5" stroke-opacity="0.204"/><path d="M460.39 147.5 L461.89 149.5 L467.01 149.5 L468.8 149.5 L540.52 149.5" stroke-opacity="0.804"/><path d="M460.39 147.5 L461.89 143.5 L467.01 143.5 L468.92 150.5 L540.52 150.5" stroke-opacity="0.444"/><path d="M460.39 147.5 L461.89 139.5 L467.01 139.5 L470.21 151.5 L540.52 151.5" stroke-opacity="0.264"/><path d="M460.39 147.5 L461.89 143.5 L467.01 143.5 L469.29 152.5 L540.52 152.5" stroke-opacity="0.03"/><path d="M460.39 147.5 L461.89 143.5 L467.01 143.5 L468.98 153.5 L540.52 153.5" stroke-opacity="0.084"/><path d="M460.39 147.5 L461.89 147.5 L467.01 147.5 L468.8 154.5 L540.52 154.5" stroke-opacity="0.264"/><path d="M460.39 147.5 L461.89 149.5 L467.01 149.5 L468.82 155.5 L540.52 155.5" stroke-opacity="0.264"/><path d="M460.39 147.5 L461.89 143.5 L467.01 143.5 L469.84 156.5 L540.52 156.5" stroke-opacity="0.324"/><path d="M460.39 147.5 L461.89 139.5 L467.01 139.5 L469.74 157.5 L540.52 157.5" stroke-opacity="0.384"/><path d="M460.39 147.5 L461.89 143.5 L467.01 143.5 L469.84 158.5 L540.52 158.5" stroke-opacity="0.384"/><path d="M460.39 147.5 L461.89 143.5 L467.01 143.5 L469.91 159.5 L540.52 159.5" stroke-opacity="0.624"/><path d="M460.39 147.5 L461.89 147.5 L467.01 147.5 L468.86 160.5 L540.52 160.5" stroke-opacity="0.324"/><path d="M460.39 147.5 L461.89 149.5 L467.01 149.5 L469.68 161.5 L540.52 161.5" stroke-opacity="0.384"/><path d="M460.39 147.5 L461.89 143.5 L467.01 143.5 L469.32 162.5 L540.52 162.5" stroke-opacity="0.444"/><path d="M460.39 147.5 L461.89 139.5 L467.01 139.5 L470.03 163.5 L540.52 163.5" stroke-opacity="0.564"/><path d="M460.39 147.5 L461.89 143.5 L467.01 143.5 L470.03 164.5 L540.52 164.5" stroke-opacity="0.744"/><path d="M460.39 147.5 L461.89 143.5 L467.01 143.5 L470.15 165.5 L540.52 165.5" stroke-opacity="0.444"/><path d="M460.39 147.5 L461.89 147.5 L467.01 147.5 L468.86 166.5 L540.52 166.5" stroke-opacity="0.444"/><path d="M460.39 147.5 L461.89 149.5 L467.01 149.5 L470.11 167.5 L540.52 167.5" stroke-opacity="0.504"/><path d="M460.39 147.5 L461.89 143.5 L467.01 143.5 L470.18 168.5 L540.52 168.5" stroke-opacity="0.744"/><path d="M460.39 147.5 L461.89 139.5 L467.01 139.5 L470.23 169.5 L540.52 169.5" stroke-opacity="0.084"/><path d="M460.39 147.5 L461.89 143.5 L467.01 143.5 L468.92 170.5 L540.52 170.5" stroke-opacity="0.084"/><path d="M460.39 147.5 L461.89 143.5 L467.01 143.5 L469.08 171.5 L540.52 171.5" stroke-opacity="0.144"/><path d="M460.39 147.5 L461.89 147.5 L467.01 147.5 L468.93 172.5 L540.52 172.5" stroke-opacity="0.324"/><path d="M460.39 147.5 L461.89 149.5 L467.01 149.5 L468.81 173.5 L540.52 173.5" stroke-opacity="0.03"/><path d="M460.39 147.5 L461.89 143.5 L467.01 143.5 L470.08 174.5 L540.52 174.5" stroke-opacity="0.144"/><path d="M460.39 147.5 L461.89 139.5 L467.01 139.5 L470.02 175.5 L540.52 175.5" stroke-opacity="0.03"/><path d="M460.39 147.5 L461.89 143.5 L467.01 143.5 L469.75 177.5 L540.52 177.5" stroke-opacity="0.03"/><path d="M460.39 147.5 L461.89 143.5 L467.01 143.5 L470.04 179.5 L540.52 179.5" stroke-opacity="0.264"/></g><path d="M453.72 147.36 L460.39 147.36 L461.89 143.68 L467.01 143.68 L468.38 152.14 L469.88 155.24 L540.52 155.24" fill="none" stroke="#f22222" stroke-width="1.6" stroke-linejoin="round"/><path d="M453.28 179V180.3M458.4 179V180.3M463.51 179V180.3M465.01 179V180.3M466.38 179V180.3M467.88 179V180.3M488.29 179V180.3M508.82 179V180.3" stroke="#000" stroke-width="0.5" stroke-opacity="0.8"/><path d="M449.2 137.1V180.3H545.9" fill="none" stroke="#111" stroke-width="0.95"/><path d="M447.4 176.8H449.2M447.4 169.44H449.2M447.4 162.08H449.2M447.4 154.72H449.2M447.4 147.36H449.2M447.4 140H449.2M480.3 180.3V182.1M511.5 180.3V182.1M542.7 180.3V182.1" stroke="#333" stroke-width="0.7"/><g font-size="5.9" fill="#4d4d4d" opacity="0.999"><text transform="translate(446 179.12) scale(1 1.1)" text-anchor="end">-40.0%</text><text transform="translate(446 171.76) scale(1 1.1)" text-anchor="end">-30.0%</text><text transform="translate(446 164.4) scale(1 1.1)" text-anchor="end">-20.0%</text><text transform="translate(446 157.04) scale(1 1.1)" text-anchor="end">-10.0%</text><text transform="translate(446 149.68) scale(1 1.1)" text-anchor="end">0.0%</text><text transform="translate(446 142.32) scale(1 1.1)" text-anchor="end">10.0%</text><text transform="translate(480.3 188.29) scale(1 1.1)" text-anchor="middle">50</text><text transform="translate(511.5 188.29) scale(1 1.1)" text-anchor="middle">100</text><text transform="translate(542.7 188.29) scale(1 1.1)" text-anchor="middle">150</text></g><text transform="translate(497.55 196.61) scale(1 1.1)" text-anchor="middle" font-size="7.4" fill="#000" opacity="0.999">s4</text><g fill="none" stroke="#000" stroke-width="0.9" stroke-linejoin="round"><path d="M598.85 155.5 L600.15 139.5 L613.7 139.5 L614.76 139.5 L675.68 139.5" stroke-opacity="0.9"/><path d="M598.85 155.5 L600.15 149.5 L613.7 149.5 L614.76 143.5 L675.68 143.5" stroke-opacity="0.2"/><path d="M598.85 155.5 L600.15 149.5 L613.7 149.5 L614.76 149.5 L675.68 149.5" stroke-opacity="0.2"/><path d="M598.85 155.5 L600.15 149.5 L613.7 149.5 L614.76 152.5 L675.68 152.5" stroke-opacity="0.4"/><path d="M598.85 155.5 L600.15 155.5 L613.7 155.5 L614.76 155.5 L675.68 155.5" stroke-opacity="0.9"/><path d="M598.85 155.5 L600.15 149.5 L613.7 149.5 L614.76 158.5 L675.68 158.5" stroke-opacity="0.7"/><path d="M598.85 155.5 L600.15 149.5 L613.7 149.5 L614.76 163.5 L675.68 163.5" stroke-opacity="0.7"/><path d="M598.85 155.5 L600.15 139.5 L613.7 139.5 L614.76 169.5 L675.68 169.5" stroke-opacity="0.45"/><path d="M598.85 155.5 L600.15 149.5 L613.7 149.5 L614.76 173.5 L675.68 173.5" stroke-opacity="0.8"/><path d="M598.85 155.5 L600.15 139.5 L613.7 139.5 L614.76 178.5 L675.68 178.5" stroke-opacity="0.75"/><path d="M598.85 155.5 L600.15 149.5 L613.7 149.5 L614.76 177.5 L675.68 177.5" stroke-opacity="0.45"/></g><path d="M588.25 155.53 L598.85 155.53 L600.15 147.6 L613.7 147.6 L614.76 160.12 L675.68 160.12" fill="none" stroke="#f22222" stroke-width="1.6" stroke-linejoin="round"/><path d="M588.6 179V180.3M593.67 179V180.3M595.91 179V180.3M598.14 179V180.3M600.15 179V180.3M602.39 179V180.3M604.63 179V180.3M606.75 179V180.3M612.76 179V180.3" stroke="#000" stroke-width="0.5" stroke-opacity="0.8"/><path d="M584.1 137.1V180.3H680.9" fill="none" stroke="#111" stroke-width="0.95"/><path d="M582.3 176.4H584.1M582.3 165.97H584.1M582.3 155.53H584.1M582.3 145.1H584.1M607.1 180.3V182.1M630.67 180.3V182.1M654.23 180.3V182.1M677.8 180.3V182.1" stroke="#333" stroke-width="0.7"/><g font-size="5.9" fill="#4d4d4d" opacity="0.999"><text transform="translate(580.9 178.72) scale(1 1.1)" text-anchor="end">-10.0%</text><text transform="translate(580.9 168.29) scale(1 1.1)" text-anchor="end">-5.0%</text><text transform="translate(580.9 157.86) scale(1 1.1)" text-anchor="end">0.0%</text><text transform="translate(580.9 147.42) scale(1 1.1)" text-anchor="end">5.0%</text><text transform="translate(607.1 188.29) scale(1 1.1)" text-anchor="middle">20</text><text transform="translate(630.67 188.29) scale(1 1.1)" text-anchor="middle">40</text><text transform="translate(654.23 188.29) scale(1 1.1)" text-anchor="middle">60</text><text transform="translate(677.8 188.29) scale(1 1.1)" text-anchor="middle">80</text></g><text transform="translate(632.5 196.61) scale(1 1.1)" text-anchor="middle" font-size="7.4" fill="#000" opacity="0.999">R1</text><g fill="none" stroke="#000" stroke-width="0.9" stroke-linejoin="round"><path d="M52.18 243.5 L53.12 243.5 L76.1 243.5 L77.14 207.5 L135.7 207.5" stroke-opacity="0.9"/><path d="M52.18 243.5 L53.12 243.5 L76.1 243.5 L77.14 212.5 L135.7 212.5" stroke-opacity="0.9"/><path d="M52.18 243.5 L53.12 243.5 L74.02 243.5 L75.06 213.5 L135.7 213.5" stroke-opacity="0.7"/><path d="M52.18 243.5 L53.12 243.5 L75.27 243.5 L76.31 214.5 L129.87 214.5 L130.91 216.5 L135.7 216.5" stroke-opacity="0.25"/><path d="M52.18 243.5 L53.12 243.5 L75.27 243.5 L76.31 216.5 L129.87 216.5 L130.91 213.5 L135.7 213.5" stroke-opacity="0.25"/><path d="M52.18 243.5 L53.12 243.5 L76.1 243.5 L77.14 217.5 L129.87 217.5 L130.91 214.5 L135.7 214.5" stroke-opacity="0.2"/><path d="M52.18 243.5 L53.12 243.5 L76.1 243.5 L77.14 219.5 L135.7 219.5" stroke-opacity="0.25"/><path d="M52.18 243.5 L53.12 243.5 L74.02 243.5 L75.06 220.5 L135.7 220.5" stroke-opacity="0.85"/><path d="M52.18 243.5 L53.12 243.5 L76.1 243.5 L77.14 221.5 L135.7 221.5" stroke-opacity="0.2"/><path d="M52.18 243.5 L53.12 243.5 L76.1 243.5 L77.14 223.5 L135.7 223.5" stroke-opacity="0.3"/><path d="M52.18 243.5 L53.12 243.5 L74.02 243.5 L75.06 224.5 L135.7 224.5" stroke-opacity="0.25"/><path d="M52.18 243.5 L53.12 243.5 L74.02 243.5 L75.06 229.5 L129.87 229.5 L130.91 227.5 L135.7 227.5" stroke-opacity="0.35"/><path d="M52.18 243.5 L53.12 243.5 L76.1 243.5 L77.14 230.5 L129.87 230.5 L130.91 228.5 L135.7 228.5" stroke-opacity="0.35"/><path d="M52.18 243.5 L53.12 243.5 L75.27 243.5 L76.31 231.5 L135.7 231.5" stroke-opacity="0.25"/><path d="M52.18 243.5 L53.12 243.5 L74.02 243.5 L75.06 232.5 L135.7 232.5" stroke-opacity="0.3"/><path d="M52.18 243.5 L53.12 243.5 L76.1 243.5 L77.14 233.5 L135.7 233.5" stroke-opacity="0.85"/><path d="M52.18 243.5 L53.12 243.5 L75.27 243.5 L76.31 235.5 L129.87 235.5 L130.91 237.5 L135.7 237.5" stroke-opacity="0.2"/><path d="M52.18 243.5 L53.12 243.5 L75.27 243.5 L76.31 236.5 L129.87 236.5 L130.91 234.5 L135.7 234.5" stroke-opacity="0.2"/><path d="M52.18 243.5 L53.12 243.5 L74.02 243.5 L75.06 237.5 L129.87 237.5 L130.91 235.5 L135.7 235.5" stroke-opacity="0.2"/><path d="M52.18 243.5 L53.12 243.5 L76.1 243.5 L77.14 239.5 L135.7 239.5" stroke-opacity="0.25"/><path d="M52.18 243.5 L53.12 243.5 L75.27 243.5 L76.31 240.5 L135.7 240.5" stroke-opacity="0.2"/><path d="M52.18 243.5 L53.12 243.5 L76.1 243.5 L77.14 243.5 L135.7 243.5" stroke-opacity="0.9"/><path d="M52.18 243.5 L53.12 246.5 L74.96 246.5 L76 246.5 L129.87 246.5 L131.43 239.5 L135.7 239.5" stroke-opacity="0.9"/><path d="M52.18 243.5 L53.12 246.5 L74.96 246.5 L76 227.5 L129.87 227.5 L131.43 220.5 L135.7 220.5" stroke-opacity="0.4"/><path d="M52.18 243.5 L53.12 246.5 L70.8 246.5 L71.63 238.5 L72.57 238.5 L73.4 234.5 L76 234.5 L76.83 230.5 L135.7 230.5" stroke-opacity="0.6"/><path d="M70.8 243.5 L71.63 238.5 L74.02 238.5 L74.65 220.5 L135.7 220.5" stroke-opacity="0.8"/></g><path d="M42.2 243 L52.18 243 L53.12 244.36 L70.8 244.36 L71.63 238.2 L72.57 238.2 L73.4 235.7 L75.06 235.7 L76.83 227.14 L129.87 227.14 L131.43 224.01 L135.7 224.01" fill="none" stroke="#f22222" stroke-width="1.6" stroke-linejoin="round"/><path d="M41.78 247.4V248.7M61.54 247.4V248.7M66.74 247.4V248.7M75.38 247.4V248.7M83.38 247.4V248.7M85.57 247.4V248.7M87.75 247.4V248.7M90.04 247.4V248.7M92.22 247.4V248.7M94.41 247.4V248.7M106.16 247.4V248.7" stroke="#000" stroke-width="0.5" stroke-opacity="0.8"/><path d="M37.4 205.7V248.7H140.9" fill="none" stroke="#111" stroke-width="0.95"/><path d="M35.6 243H37.4M35.6 232.57H37.4M35.6 222.13H37.4M35.6 211.7H37.4M63 248.7V250.5M89 248.7V250.5M115 248.7V250.5" stroke="#333" stroke-width="0.7"/><g font-size="5.9" fill="#4d4d4d" opacity="0.999"><text transform="translate(34.2 245.32) scale(1 1.1)" text-anchor="end">0%</text><text transform="translate(34.2 234.89) scale(1 1.1)" text-anchor="end">10%</text><text transform="translate(34.2 224.46) scale(1 1.1)" text-anchor="end">20%</text><text transform="translate(34.2 214.02) scale(1 1.1)" text-anchor="end">30%</text><text transform="translate(63 256.69) scale(1 1.1)" text-anchor="middle">25</text><text transform="translate(89 256.69) scale(1 1.1)" text-anchor="middle">50</text><text transform="translate(115 256.69) scale(1 1.1)" text-anchor="middle">75</text></g><text transform="translate(89.15 265.01) scale(1 1.1)" text-anchor="middle" font-size="7.4" fill="#000" opacity="0.999">JV5</text><g fill="none" stroke="#000" stroke-width="0.9" stroke-linejoin="round"><path d="M189.58 237.6 L190.65 237.6 L193.01 237.6 L194.83 215.69 L201.81 215.69 L204.23 212.5 L270.74 212.5" stroke-opacity="0.03"/><path d="M189.58 237.6 L190.65 229.3 L193.01 229.3 L194.83 215.69 L202.13 215.69 L204.61 213.5 L270.74 213.5" stroke-opacity="0.048"/><path d="M189.58 237.6 L190.65 227 L193.01 227 L194.83 215.69 L201.43 215.69 L204.61 214.5 L270.74 214.5" stroke-opacity="0.03"/><path d="M189.58 237.6 L190.65 233.18 L193.01 233.18 L194.83 215.69 L201.78 215.69 L204.67 215.5 L270.74 215.5" stroke-opacity="0.03"/><path d="M189.58 237.6 L190.65 229.3 L193.01 229.3 L194.83 215.69 L201.37 215.69 L203.96 216.5 L270.74 216.5" stroke-opacity="0.03"/><path d="M189.58 237.6 L190.65 224.35 L193.01 224.35 L194.83 215.69 L202.25 215.69 L204.56 217.5 L270.74 217.5" stroke-opacity="0.03"/><path d="M189.58 237.6 L190.65 237.6 L193.01 237.6 L194.83 215.69 L201.71 215.69 L204.3 218.5 L270.74 218.5" stroke-opacity="0.084"/><path d="M189.58 237.6 L190.65 229.3 L193.01 229.3 L194.83 215.69 L201.58 215.69 L204.07 219.5 L270.74 219.5" stroke-opacity="0.03"/><path d="M189.58 237.6 L190.65 227 L193.01 227 L194.83 215.69 L201.44 215.69 L204.66 220.5 L270.74 220.5" stroke-opacity="0.324"/><path d="M189.58 237.6 L190.65 233.18 L193.01 233.18 L194.83 215.84 L202.26 215.84 L203.74 221.5 L270.74 221.5" stroke-opacity="0.864"/><path d="M189.58 237.6 L190.65 229.3 L193.01 229.3 L194.83 217.28 L201.99 217.28 L204.26 222.5 L270.74 222.5" stroke-opacity="0.504"/><path d="M189.58 237.6 L190.65 224.35 L193.01 224.35 L194.83 222.88 L201.88 222.88 L204.17 223.5 L270.74 223.5" stroke-opacity="0.504"/><path d="M189.58 237.6 L190.65 237.6 L193.01 237.6 L194.83 217.4 L201.74 217.4 L204.2 224.5 L270.74 224.5" stroke-opacity="0.504"/><path d="M189.58 237.6 L190.65 229.3 L193.01 229.3 L194.83 222.88 L201.75 222.88 L204.35 225.5 L270.74 225.5" stroke-opacity="0.744"/><path d="M189.58 237.6 L190.65 227 L193.01 227 L194.83 224.56 L201.5 224.56 L203.97 226.5 L270.74 226.5" stroke-opacity="0.264"/><path d="M189.58 237.6 L190.65 233.18 L193.01 233.18 L194.83 222.64 L202 222.64 L204.15 227.5 L270.74 227.5" stroke-opacity="0.864"/><path d="M189.58 237.6 L190.65 229.3 L193.01 229.3 L194.83 226.78 L202.06 226.78 L204.49 228.5 L270.74 228.5" stroke-opacity="0.504"/><path d="M189.58 237.6 L190.65 224.35 L193.01 224.35 L194.83 225.14 L202.03 225.14 L204.65 229.5 L270.74 229.5" stroke-opacity="0.504"/><path d="M189.58 237.6 L190.65 237.6 L193.01 237.6 L194.83 225.45 L201.9 225.45 L203.98 230.5 L270.74 230.5" stroke-opacity="0.504"/><path d="M189.58 237.6 L190.65 229.3 L193.01 229.3 L194.83 230.47 L202.28 230.47 L203.89 231.5 L270.74 231.5" stroke-opacity="0.864"/><path d="M189.58 237.6 L190.65 227 L193.01 227 L194.83 225.91 L202.32 225.91 L203.79 232.5 L270.74 232.5" stroke-opacity="0.984"/><path d="M189.58 237.6 L190.65 233.18 L193.01 233.18 L194.83 229.42 L201.46 229.42 L203.77 233.5 L270.74 233.5" stroke-opacity="0.744"/><path d="M189.58 237.6 L190.65 229.3 L193.01 229.3 L194.83 234.62 L201.58 234.62 L203.93 234.5 L270.74 234.5" stroke-opacity="0.444"/><path d="M189.58 237.6 L190.65 224.35 L193.01 224.35 L194.83 234.77 L201.37 234.77 L204.58 235.5 L270.74 235.5" stroke-opacity="0.924"/><path d="M189.58 237.6 L190.65 237.6 L193.01 237.6 L194.83 235.87 L202.2 235.87 L204.11 236.5 L270.74 236.5" stroke-opacity="0.048"/><path d="M189.58 237.6 L190.65 229.3 L193.01 229.3 L194.83 238.48 L202.17 238.48 L204.08 237.5 L270.74 237.5" stroke-opacity="0.144"/><path d="M189.58 237.6 L190.65 227 L193.01 227 L194.83 238.48 L202.3 238.48 L203.93 238.5 L270.74 238.5" stroke-opacity="0.03"/><path d="M189.58 237.6 L190.65 233.18 L193.01 233.18 L194.83 238.48 L201.53 238.48 L204.4 239.5 L270.74 239.5" stroke-opacity="0.624"/><path d="M189.58 237.6 L190.65 229.3 L193.01 229.3 L194.83 238.48 L201.51 238.48 L204.52 240.5 L270.74 240.5" stroke-opacity="0.03"/><path d="M189.58 237.6 L190.65 224.35 L193.01 224.35 L194.83 238.28 L201.88 238.28 L204.3 241.5 L270.74 241.5" stroke-opacity="0.144"/><path d="M189.58 237.6 L190.65 237.6 L193.01 237.6 L194.83 238.28 L201.97 238.28 L204.31 242.5 L270.74 242.5" stroke-opacity="0.048"/><path d="M189.58 237.6 L190.65 229.3 L193.01 229.3 L194.83 238.48 L201.94 238.48 L204.23 243.5 L270.74 243.5" stroke-opacity="0.144"/><path d="M189.58 237.6 L190.65 227 L193.01 227 L194.83 238.48 L201.45 238.48 L203.74 244.5 L270.74 244.5" stroke-opacity="0.204"/><path d="M189.58 237.6 L190.65 233.18 L193.01 233.18 L194.83 238.48 L201.53 238.48 L204.36 245.5 L270.74 245.5" stroke-opacity="0.03"/><path d="M189.58 237.6 L190.65 229.3 L193.01 229.3 L194.83 238.48 L201.51 238.48 L204.04 246.5 L270.74 246.5" stroke-opacity="0.03"/><path d="M189.58 237.6 L190.65 224.35 L193.01 224.35 L194.83 238.48 L201.42 238.48 L204.52 247.5 L270.74 247.5" stroke-opacity="0.144"/><path d="M189.58 237.6 L190.65 229.65 L193.01 229.65 L194.83 206.68 L201.47 206.68 L203.61 228.5 L270.74 228.5" stroke-opacity="0.15"/><path d="M189.58 237.6 L190.65 229.65 L193.01 229.65 L194.83 209.33 L201.47 209.33 L203.61 228.5 L270.74 228.5" stroke-opacity="0.15"/><path d="M189.58 237.6 L190.65 229.65 L193.01 229.65 L194.83 211.1 L201.47 211.1 L203.61 228.5 L270.74 228.5" stroke-opacity="0.15"/><path d="M189.58 237.6 L190.65 229.65 L193.01 229.65 L194.83 212.87 L201.47 212.87 L203.61 228.5 L270.74 228.5" stroke-opacity="0.15"/><path d="M189.58 237.6 L190.65 229.65 L193.01 229.65 L194.83 213.75 L201.47 213.75 L203.61 228.5 L270.74 228.5" stroke-opacity="0.15"/><path d="M189.58 237.6 L190.65 229.65 L193.01 229.65 L194.83 215.69 L201.47 215.69 L203.61 221.5 L270.74 221.5" stroke-opacity="0.9"/><path d="M189.58 237.6 L190.65 229.65 L193.01 229.65 L194.83 215.69 L201.47 215.69 L203.61 234.5 L270.74 234.5" stroke-opacity="0.7"/></g><path d="M179.41 237.6 L189.58 237.6 L190.65 229.3 L193.01 229.3 L194.83 224 L201.25 224 L203.61 230.53 L270.74 230.53" fill="none" stroke="#f22222" stroke-width="1.6" stroke-linejoin="round"/><path d="M178.13 247.4V248.7M180.27 247.4V248.7M182.52 247.4V248.7M184.66 247.4V248.7M186.91 247.4V248.7M189.05 247.4V248.7M191.19 247.4V248.7M193.33 247.4V248.7M195.69 247.4V248.7M197.83 247.4V248.7" stroke="#000" stroke-width="0.5" stroke-opacity="0.8"/><path d="M174.6 205.7V248.7H275.9" fill="none" stroke="#111" stroke-width="0.95"/><path d="M172.8 246.43H174.6M172.8 237.6H174.6M172.8 228.77H174.6M172.8 219.93H174.6M172.8 211.1H174.6M176.2 248.7V250.5M202.97 248.7V250.5M229.73 248.7V250.5M256.5 248.7V250.5" stroke="#333" stroke-width="0.7"/><g font-size="5.9" fill="#4d4d4d" opacity="0.999"><text transform="translate(171.4 248.76) scale(1 1.1)" text-anchor="end">-10%</text><text transform="translate(171.4 239.92) scale(1 1.1)" text-anchor="end">0%</text><text transform="translate(171.4 231.09) scale(1 1.1)" text-anchor="end">10%</text><text transform="translate(171.4 222.26) scale(1 1.1)" text-anchor="end">20%</text><text transform="translate(171.4 213.42) scale(1 1.1)" text-anchor="end">30%</text><text transform="translate(176.2 256.69) scale(1 1.1)" text-anchor="middle">0</text><text transform="translate(202.97 256.69) scale(1 1.1)" text-anchor="middle">25</text><text transform="translate(229.73 256.69) scale(1 1.1)" text-anchor="middle">50</text><text transform="translate(256.5 256.69) scale(1 1.1)" text-anchor="middle">75</text></g><text transform="translate(225.25 265.01) scale(1 1.1)" text-anchor="middle" font-size="7.4" fill="#000" opacity="0.999">j6</text><g fill="none" stroke="#000" stroke-width="0.9" stroke-linejoin="round"><path d="M341.12 238.5 L342.58 207.5 L357.72 207.5 L359.18 216.5 L406.24 216.5" stroke-opacity="0.9"/><path d="M341.12 238.5 L342.58 207.5 L357.72 207.5 L359.18 207.5 L406.24 207.5" stroke-opacity="0.45"/><path d="M341.12 238.5 L342.58 216.5 L357.72 216.5 L359.18 220.5 L406.24 220.5" stroke-opacity="0.45"/><path d="M341.12 238.5 L342.58 220.5 L357.72 220.5 L359.18 221.5 L406.24 221.5" stroke-opacity="0.4"/><path d="M341.12 238.5 L342.58 229.5 L357.72 229.5 L359.18 228.5 L406.24 228.5" stroke-opacity="0.6"/><path d="M341.12 238.5 L342.58 229.5 L357.72 229.5 L359.18 231.5 L406.24 231.5" stroke-opacity="0.3"/><path d="M341.12 238.5 L342.58 234.5 L357.72 234.5 L359.18 234.5 L406.24 234.5" stroke-opacity="0.7"/><path d="M341.12 238.5 L342.58 238.5 L357.72 238.5 L359.18 238.5 L406.24 238.5" stroke-opacity="0.9"/><path d="M341.12 238.5 L342.58 238.5 L357.72 238.5 L359.18 246.5 L406.24 246.5" stroke-opacity="0.45"/><path d="M341.12 238.5 L342.58 238.5 L357.72 238.5 L359.18 245.5 L406.24 245.5" stroke-opacity="0.3"/><path d="M341.12 238.5 L342.58 222.5 L357.72 222.5 L359.18 226.5 L406.24 226.5" stroke-opacity="0.4"/><path d="M341.12 238.5 L342.58 232.5 L357.72 232.5 L359.18 228.5 L406.24 228.5" stroke-opacity="0.4"/></g><path d="M317.22 238.1 L341.12 238.1 L342.58 222.68 L357.72 222.68 L359.18 226.45 L406.24 226.45" fill="none" stroke="#f22222" stroke-width="1.6" stroke-linejoin="round"/><path d="M315.95 247.4V248.7M321.78 247.4V248.7M337.11 247.4V248.7M342.94 247.4V248.7M345.86 247.4V248.7M348.05 247.4V248.7M350.24 247.4V248.7M352.43 247.4V248.7M353.89 247.4V248.7" stroke="#000" stroke-width="0.5" stroke-opacity="0.8"/><path d="M312 205.7V248.7H410.9" fill="none" stroke="#111" stroke-width="0.95"/><path d="M310.2 246.67H312M310.2 238.1H312M310.2 229.53H312M310.2 220.97H312M310.2 212.4H312M315.4 248.7V250.5M333.64 248.7V250.5M351.88 248.7V250.5M370.12 248.7V250.5M388.36 248.7V250.5M406.6 248.7V250.5" stroke="#333" stroke-width="0.7"/><g font-size="5.9" fill="#4d4d4d" opacity="0.999"><text transform="translate(308.8 248.99) scale(1 1.1)" text-anchor="end">-5.0%</text><text transform="translate(308.8 240.42) scale(1 1.1)" text-anchor="end">0.0%</text><text transform="translate(308.8 231.86) scale(1 1.1)" text-anchor="end">5.0%</text><text transform="translate(308.8 223.29) scale(1 1.1)" text-anchor="end">10.0%</text><text transform="translate(308.8 214.72) scale(1 1.1)" text-anchor="end">15.0%</text><text transform="translate(315.4 256.69) scale(1 1.1)" text-anchor="middle">0</text><text transform="translate(333.64 256.69) scale(1 1.1)" text-anchor="middle">10</text><text transform="translate(351.88 256.69) scale(1 1.1)" text-anchor="middle">20</text><text transform="translate(370.12 256.69) scale(1 1.1)" text-anchor="middle">30</text><text transform="translate(388.36 256.69) scale(1 1.1)" text-anchor="middle">40</text><text transform="translate(406.6 256.69) scale(1 1.1)" text-anchor="middle">50</text></g><text transform="translate(361.45 265.01) scale(1 1.1)" text-anchor="middle" font-size="7.4" fill="#000" opacity="0.999">Calyx.L</text><g fill="none" stroke="#000" stroke-width="0.9" stroke-linejoin="round"><path d="M460.35 228.5 L461.25 219.5 L464.97 219.5 L466.37 219.5 L470.09 219.5 L471.49 219.5 L540.87 219.5" stroke-opacity="0.8"/><path d="M460.35 228.5 L461.25 228.5 L464.97 228.5 L466.37 217.5 L470.09 217.5 L471.49 219.5 L540.87 219.5" stroke-opacity="0.6"/><path d="M460.35 228.5 L461.25 228.5 L464.97 228.5 L466.37 207.5 L470.09 207.5 L471.49 247.5 L540.87 247.5" stroke-opacity="0.25"/><path d="M460.35 228.5 L461.25 228.5 L464.97 228.5 L466.37 228.5 L470.09 228.5 L471.49 228.5 L540.87 228.5" stroke-opacity="0.7"/><path d="M460.35 228.5 L461.25 219.5 L464.97 219.5 L466.37 217.5 L470.09 217.5 L471.49 237.5 L540.87 237.5" stroke-opacity="0.9"/><path d="M460.35 228.5 L461.25 228.5 L464.97 228.5 L466.37 228.5 L470.09 228.5 L471.49 247.5 L540.87 247.5" stroke-opacity="0.45"/><path d="M460.35 228.5 L461.25 228.5 L464.97 228.5 L466.37 228.5 L470.09 228.5 L471.49 246.5 L540.87 246.5" stroke-opacity="0.3"/><path d="M460.35 228.5 L461.25 228.5 L464.97 228.5 L466.37 228.5 L470.09 228.5 L471.49 228.5 L540.87 228.5" stroke-opacity="0.4"/></g><path d="M452.02 228.9 L460.35 228.9 L461.25 225.08 L464.97 225.08 L466.37 224.24 L470.09 224.24 L471.49 226.14 L540.87 226.14" fill="none" stroke="#f22222" stroke-width="1.6" stroke-linejoin="round"/><path d="M451.11 247.4V248.7M453.32 247.4V248.7M455.53 247.4V248.7M457.74 247.4V248.7M459.95 247.4V248.7M462.76 247.4V248.7M464.97 247.4V248.7M467.18 247.4V248.7M468.58 247.4V248.7M470.09 247.4V248.7M471.49 247.4V248.7" stroke="#000" stroke-width="0.5" stroke-opacity="0.8"/><path d="M447.4 205.7V248.7H545.9" fill="none" stroke="#111" stroke-width="0.95"/><path d="M445.6 239.5H447.4M445.6 228.9H447.4M445.6 218.3H447.4M445.6 207.7H447.4M448 248.7V250.5M473.1 248.7V250.5M498.2 248.7V250.5M523.3 248.7V250.5" stroke="#333" stroke-width="0.7"/><g font-size="5.9" fill="#4d4d4d" opacity="0.999"><text transform="translate(444.2 241.82) scale(1 1.1)" text-anchor="end">-5.0%</text><text transform="translate(444.2 231.22) scale(1 1.1)" text-anchor="end">0.0%</text><text transform="translate(444.2 220.62) scale(1 1.1)" text-anchor="end">5.0%</text><text transform="translate(444.2 210.02) scale(1 1.1)" text-anchor="end">10.0%</text><text transform="translate(448 256.69) scale(1 1.1)" text-anchor="middle">0</text><text transform="translate(473.1 256.69) scale(1 1.1)" text-anchor="middle">25</text><text transform="translate(498.2 256.69) scale(1 1.1)" text-anchor="middle">50</text><text transform="translate(523.3 256.69) scale(1 1.1)" text-anchor="middle">75</text></g><text transform="translate(496.65 265.01) scale(1 1.1)" text-anchor="middle" font-size="7.4" fill="#000" opacity="0.999">z4</text><g fill="none" stroke="#000" stroke-width="0.9" stroke-linejoin="round"><path d="M602.28 247.5 L603.81 207.5 L675.24 207.5" stroke-opacity="0.9"/><path d="M602.28 247.5 L603.81 247.5 L675.24 247.5" stroke-opacity="0.5"/><path d="M602.28 247.5 L603.81 247.5 L675.24 247.5" stroke-opacity="0.4"/><path d="M583.18 247.5 L675.24 247.5" stroke-opacity="0.5"/></g><path d="M583.18 246.83 L602.28 246.83 L603.81 243.06 L675.24 243.06" fill="none" stroke="#f22222" stroke-width="1.6" stroke-linejoin="round"/><path d="M583.29 247.4V248.7M593.21 247.4V248.7M599.31 247.4V248.7M602.99 247.4V248.7M604.61 247.4V248.7M606.09 247.4V248.7M608.4 247.4V248.7M612.19 247.4V248.7M616.7 247.4V248.7" stroke="#000" stroke-width="0.5" stroke-opacity="0.8"/><path d="M578.9 205.7V248.7H680.9" fill="none" stroke="#111" stroke-width="0.95"/><path d="M577.1 247H578.9M577.1 235.4H578.9M577.1 223.8H578.9M577.1 212.2H578.9M603.7 248.7V250.5M632.2 248.7V250.5M660.7 248.7V250.5" stroke="#333" stroke-width="0.7"/><g font-size="5.9" fill="#4d4d4d" opacity="0.999"><text transform="translate(575.7 249.32) scale(1 1.1)" text-anchor="end">0.0%</text><text transform="translate(575.7 237.72) scale(1 1.1)" text-anchor="end">2.0%</text><text transform="translate(575.7 226.12) scale(1 1.1)" text-anchor="end">4.0%</text><text transform="translate(575.7 214.52) scale(1 1.1)" text-anchor="end">6.0%</text><text transform="translate(603.7 256.69) scale(1 1.1)" text-anchor="middle">200</text><text transform="translate(632.2 256.69) scale(1 1.1)" text-anchor="middle">300</text><text transform="translate(660.7 256.69) scale(1 1.1)" text-anchor="middle">400</text></g><text transform="translate(629.9 265.01) scale(1 1.1)" text-anchor="middle" font-size="7.4" fill="#000" opacity="0.999">DSW.j6</text><g fill="none" stroke="#000" stroke-width="0.9" stroke-linejoin="round"><path d="M48.27 293.5 L50.31 315.5 L64.33 315.5 L65.78 293.5 L135.85 293.5" stroke-opacity="0.9"/><path d="M48.27 293.5 L50.31 315.5 L64.33 315.5 L65.78 297.5 L135.85 297.5" stroke-opacity="0.9"/><path d="M48.27 293.5 L50.31 293.5 L64.33 293.5 L65.78 275.5 L135.85 275.5" stroke-opacity="0.55"/><path d="M48.27 293.5 L50.31 293.5 L64.33 293.5 L65.78 293.5 L135.85 293.5" stroke-opacity="0.9"/></g><path d="M45.71 293.63 L48.27 293.63 L50.31 302.42 L64.33 302.42 L65.78 294.67 L135.85 294.67" fill="none" stroke="#f22222" stroke-width="1.6" stroke-linejoin="round"/><path d="M45.71 316V317.3M50.31 316V317.3M52.29 316V317.3M54.26 316V317.3M56.23 316V317.3M58.21 316V317.3M60.18 316V317.3M62.16 316V317.3M64.13 316V317.3M135.85 316V317.3" stroke="#000" stroke-width="0.5" stroke-opacity="0.8"/><path d="M41.2 274.2V317.3H140.9" fill="none" stroke="#111" stroke-width="0.95"/><path d="M39.4 314.3H41.2M39.4 303.97H41.2M39.4 293.63H41.2M39.4 283.3H41.2M41.1 317.3V319.1M74 317.3V319.1M106.9 317.3V319.1M139.8 317.3V319.1" stroke="#333" stroke-width="0.7"/><g font-size="5.9" fill="#4d4d4d" opacity="0.999"><text transform="translate(38 316.62) scale(1 1.1)" text-anchor="end">-4.0%</text><text transform="translate(38 306.29) scale(1 1.1)" text-anchor="end">-2.0%</text><text transform="translate(38 295.96) scale(1 1.1)" text-anchor="end">0.0%</text><text transform="translate(38 285.62) scale(1 1.1)" text-anchor="end">2.0%</text><text transform="translate(41.1 325.29) scale(1 1.1)" text-anchor="middle">0</text><text transform="translate(74 325.29) scale(1 1.1)" text-anchor="middle">50</text><text transform="translate(106.9 325.29) scale(1 1.1)" text-anchor="middle">100</text><text transform="translate(139.8 325.29) scale(1 1.1)" text-anchor="middle">150</text></g><text transform="translate(91.05 333.61) scale(1 1.1)" text-anchor="middle" font-size="7.4" fill="#000" opacity="0.999">j1</text>
</svg>
</body></html>
